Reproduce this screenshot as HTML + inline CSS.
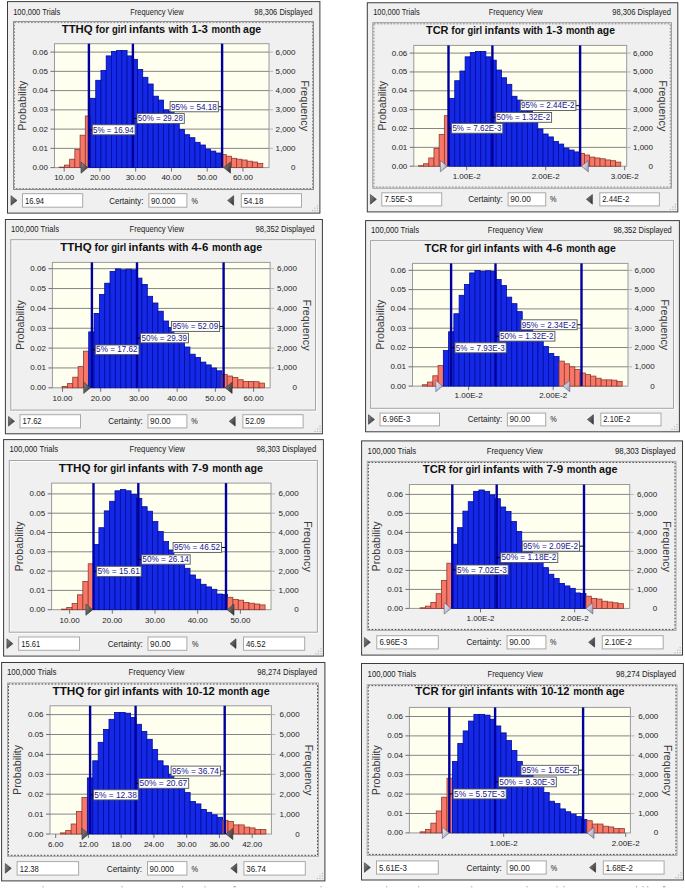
<!DOCTYPE html>
<html><head><meta charset="utf-8"><title>Figure</title>
<style>html,body{margin:0;padding:0;background:#fff;}body{width:685px;height:888px;overflow:hidden;font-family:"Liberation Sans",sans-serif;}svg{display:block;}</style></head>
<body>
<svg width="685" height="888" viewBox="0 0 685 888" font-family='"Liberation Sans", sans-serif'>
<defs><linearGradient id="gd" x1="0" y1="0" x2="1" y2="1"><stop offset="0" stop-color="#8c8c8c"/><stop offset="1" stop-color="#2c2c2c"/></linearGradient><linearGradient id="gl" x1="0" y1="0" x2="1" y2="1"><stop offset="0" stop-color="#f4f4fa"/><stop offset="1" stop-color="#9a9ab4"/></linearGradient></defs>
<rect width="685" height="888" fill="#fff"/>
<g><rect x="7.5" y="1.6" width="312.4" height="211.5" fill="#f0f0f0" stroke="#3c3c3c" stroke-width="1"/>
<rect x="13.5" y="21.6" width="300" height="167.9" fill="none" stroke="#8c8c8c" stroke-width="1"/>
<rect x="14.5" y="22.6" width="298" height="165.9" fill="none" stroke="#e4e4e4" stroke-width="1"/>
<rect x="14.5" y="22.6" width="298" height="165.9" fill="none" stroke="#8c8c8c" stroke-width="1" stroke-dasharray="1.6 1.7"/>
<text x="13.2" y="14.8" font-size="9.1" text-anchor="start" fill="#1a1a1a" textLength="47.1" lengthAdjust="spacingAndGlyphs">100,000 Trials</text>
<text x="130.3" y="14.8" font-size="9.1" text-anchor="start" fill="#1a1a1a" textLength="53.3" lengthAdjust="spacingAndGlyphs">Frequency View</text>
<text x="254.3" y="14.8" font-size="9.1" text-anchor="start" fill="#1a1a1a" textLength="58.1" lengthAdjust="spacingAndGlyphs">98,306 Displayed</text>
<text x="61.7" y="33" font-size="11.3" text-anchor="start" fill="#111" font-weight="bold" textLength="30.99" lengthAdjust="spacingAndGlyphs">TTHQ</text>
<text x="95.5" y="33" font-size="11.3" text-anchor="start" fill="#111" font-weight="bold" textLength="13.68" lengthAdjust="spacingAndGlyphs">for</text>
<text x="112" y="33" font-size="11.3" text-anchor="start" fill="#111" font-weight="bold" textLength="14.69" lengthAdjust="spacingAndGlyphs">girl</text>
<text x="129.11" y="33" font-size="11.3" text-anchor="start" fill="#111" font-weight="bold" textLength="36.12" lengthAdjust="spacingAndGlyphs">infants</text>
<text x="168.44" y="33" font-size="11.3" text-anchor="start" fill="#111" font-weight="bold" textLength="19.72" lengthAdjust="spacingAndGlyphs">with</text>
<text x="191.48" y="33" font-size="11.3" text-anchor="start" fill="#111" font-weight="bold" textLength="16.5" lengthAdjust="spacingAndGlyphs">1-3</text>
<text x="211.5" y="33" font-size="11.3" text-anchor="start" fill="#111" font-weight="bold" textLength="29.07" lengthAdjust="spacingAndGlyphs">month</text>
<text x="243.09" y="33" font-size="11.3" text-anchor="start" fill="#111" font-weight="bold" textLength="18.11" lengthAdjust="spacingAndGlyphs">age</text>
<rect x="54.5" y="43.7" width="214.5" height="123.9" fill="#fffff0" stroke="#9a9a9a" stroke-width="1"/>
<line x1="50.5" y1="167.6" x2="54.5" y2="167.6" stroke="#707070" stroke-width="1"/>
<text x="48" y="170.1" font-size="8" text-anchor="end" fill="#222">0.00</text>
<text x="295.49" y="170.1" font-size="8" text-anchor="end" fill="#222">0</text>
<line x1="54.5" y1="148.35" x2="269" y2="148.35" stroke="#858585" stroke-width="1"/>
<line x1="50.5" y1="148.35" x2="54.5" y2="148.35" stroke="#707070" stroke-width="1"/>
<line x1="269" y1="148.35" x2="273" y2="148.35" stroke="#b4b4b4" stroke-width="1"/>
<text x="48" y="150.85" font-size="8" text-anchor="end" fill="#222">0.01</text>
<text x="295.49" y="150.85" font-size="8" text-anchor="end" fill="#222">1,000</text>
<line x1="54.5" y1="129.1" x2="269" y2="129.1" stroke="#858585" stroke-width="1"/>
<line x1="50.5" y1="129.1" x2="54.5" y2="129.1" stroke="#707070" stroke-width="1"/>
<line x1="269" y1="129.1" x2="273" y2="129.1" stroke="#b4b4b4" stroke-width="1"/>
<text x="48" y="131.6" font-size="8" text-anchor="end" fill="#222">0.02</text>
<text x="295.49" y="131.6" font-size="8" text-anchor="end" fill="#222">2,000</text>
<line x1="54.5" y1="109.85" x2="269" y2="109.85" stroke="#858585" stroke-width="1"/>
<line x1="50.5" y1="109.85" x2="54.5" y2="109.85" stroke="#707070" stroke-width="1"/>
<line x1="269" y1="109.85" x2="273" y2="109.85" stroke="#b4b4b4" stroke-width="1"/>
<text x="48" y="112.35" font-size="8" text-anchor="end" fill="#222">0.03</text>
<text x="295.49" y="112.35" font-size="8" text-anchor="end" fill="#222">3,000</text>
<line x1="54.5" y1="90.6" x2="269" y2="90.6" stroke="#858585" stroke-width="1"/>
<line x1="50.5" y1="90.6" x2="54.5" y2="90.6" stroke="#707070" stroke-width="1"/>
<line x1="269" y1="90.6" x2="273" y2="90.6" stroke="#b4b4b4" stroke-width="1"/>
<text x="48" y="93.1" font-size="8" text-anchor="end" fill="#222">0.04</text>
<text x="295.49" y="93.1" font-size="8" text-anchor="end" fill="#222">4,000</text>
<line x1="54.5" y1="71.35" x2="269" y2="71.35" stroke="#858585" stroke-width="1"/>
<line x1="50.5" y1="71.35" x2="54.5" y2="71.35" stroke="#707070" stroke-width="1"/>
<line x1="269" y1="71.35" x2="273" y2="71.35" stroke="#b4b4b4" stroke-width="1"/>
<text x="48" y="73.85" font-size="8" text-anchor="end" fill="#222">0.05</text>
<text x="295.49" y="73.85" font-size="8" text-anchor="end" fill="#222">5,000</text>
<line x1="54.5" y1="52.1" x2="269" y2="52.1" stroke="#858585" stroke-width="1"/>
<line x1="50.5" y1="52.1" x2="54.5" y2="52.1" stroke="#707070" stroke-width="1"/>
<line x1="269" y1="52.1" x2="273" y2="52.1" stroke="#b4b4b4" stroke-width="1"/>
<text x="48" y="54.6" font-size="8" text-anchor="end" fill="#222">0.06</text>
<text x="295.49" y="54.6" font-size="8" text-anchor="end" fill="#222">6,000</text>
<text transform="translate(26.21,105.65) rotate(-90)" font-size="10.5" text-anchor="middle" fill="#3a3a3a" textLength="50" lengthAdjust="spacingAndGlyphs">Probability</text>
<text transform="translate(301.49,105.65) rotate(90)" font-size="10.5" text-anchor="middle" fill="#3a3a3a" textLength="51" lengthAdjust="spacingAndGlyphs">Frequency</text>
<line x1="64.2" y1="167.6" x2="64.2" y2="171.6" stroke="#707070" stroke-width="1"/>
<text x="64.2" y="180.3" font-size="8" text-anchor="middle" fill="#222">10.00</text>
<line x1="99.95" y1="167.6" x2="99.95" y2="171.6" stroke="#707070" stroke-width="1"/>
<text x="99.95" y="180.3" font-size="8" text-anchor="middle" fill="#222">20.00</text>
<line x1="135.7" y1="167.6" x2="135.7" y2="171.6" stroke="#707070" stroke-width="1"/>
<text x="135.7" y="180.3" font-size="8" text-anchor="middle" fill="#222">30.00</text>
<line x1="171.45" y1="167.6" x2="171.45" y2="171.6" stroke="#707070" stroke-width="1"/>
<text x="171.45" y="180.3" font-size="8" text-anchor="middle" fill="#222">40.00</text>
<line x1="207.2" y1="167.6" x2="207.2" y2="171.6" stroke="#707070" stroke-width="1"/>
<text x="207.2" y="180.3" font-size="8" text-anchor="middle" fill="#222">50.00</text>
<line x1="242.95" y1="167.6" x2="242.95" y2="171.6" stroke="#707070" stroke-width="1"/>
<text x="242.95" y="180.3" font-size="8" text-anchor="middle" fill="#222">60.00</text>
<rect x="59.2" y="167.1" width="5.22" height="0.5" fill="#f87868" stroke="#8c3a30" stroke-width="0.8"/>
<rect x="64.42" y="165.1" width="5.22" height="2.5" fill="#f87868" stroke="#8c3a30" stroke-width="0.8"/>
<rect x="69.64" y="159.2" width="5.22" height="8.4" fill="#f87868" stroke="#8c3a30" stroke-width="0.8"/>
<rect x="74.86" y="149.5" width="5.22" height="18.1" fill="#f87868" stroke="#8c3a30" stroke-width="0.8"/>
<rect x="80.08" y="135.2" width="5.22" height="32.4" fill="#f87868" stroke="#8c3a30" stroke-width="0.8"/>
<rect x="85.3" y="116" width="5.22" height="51.6" fill="#f87868" stroke="#8c3a30" stroke-width="0.8"/>
<rect x="90.52" y="98.3" width="5.22" height="69.3" fill="#1428e6" stroke="#000c9c" stroke-width="0.8"/>
<rect x="95.74" y="80.3" width="5.22" height="87.3" fill="#1428e6" stroke="#000c9c" stroke-width="0.8"/>
<rect x="100.96" y="70.4" width="5.22" height="97.2" fill="#1428e6" stroke="#000c9c" stroke-width="0.8"/>
<rect x="106.18" y="55.9" width="5.22" height="111.7" fill="#1428e6" stroke="#000c9c" stroke-width="0.8"/>
<rect x="111.4" y="51.4" width="5.22" height="116.2" fill="#1428e6" stroke="#000c9c" stroke-width="0.8"/>
<rect x="116.62" y="50.4" width="5.22" height="117.2" fill="#1428e6" stroke="#000c9c" stroke-width="0.8"/>
<rect x="121.84" y="50.4" width="5.22" height="117.2" fill="#1428e6" stroke="#000c9c" stroke-width="0.8"/>
<rect x="127.06" y="55.9" width="5.22" height="111.7" fill="#1428e6" stroke="#000c9c" stroke-width="0.8"/>
<rect x="132.28" y="59.3" width="5.22" height="108.3" fill="#1428e6" stroke="#000c9c" stroke-width="0.8"/>
<rect x="137.5" y="69.4" width="5.22" height="98.2" fill="#1428e6" stroke="#000c9c" stroke-width="0.8"/>
<rect x="142.72" y="77.3" width="5.22" height="90.3" fill="#1428e6" stroke="#000c9c" stroke-width="0.8"/>
<rect x="147.94" y="84" width="5.22" height="83.6" fill="#1428e6" stroke="#000c9c" stroke-width="0.8"/>
<rect x="153.16" y="96.2" width="5.22" height="71.4" fill="#1428e6" stroke="#000c9c" stroke-width="0.8"/>
<rect x="158.38" y="100.1" width="5.22" height="67.5" fill="#1428e6" stroke="#000c9c" stroke-width="0.8"/>
<rect x="163.6" y="109.9" width="5.22" height="57.7" fill="#1428e6" stroke="#000c9c" stroke-width="0.8"/>
<rect x="168.82" y="111.4" width="5.22" height="56.2" fill="#1428e6" stroke="#000c9c" stroke-width="0.8"/>
<rect x="174.04" y="120" width="5.22" height="47.6" fill="#1428e6" stroke="#000c9c" stroke-width="0.8"/>
<rect x="179.26" y="129.6" width="5.22" height="38" fill="#1428e6" stroke="#000c9c" stroke-width="0.8"/>
<rect x="184.48" y="134.7" width="5.22" height="32.9" fill="#1428e6" stroke="#000c9c" stroke-width="0.8"/>
<rect x="189.7" y="137.7" width="5.22" height="29.9" fill="#1428e6" stroke="#000c9c" stroke-width="0.8"/>
<rect x="194.92" y="142.3" width="5.22" height="25.3" fill="#1428e6" stroke="#000c9c" stroke-width="0.8"/>
<rect x="200.14" y="145" width="5.22" height="22.6" fill="#1428e6" stroke="#000c9c" stroke-width="0.8"/>
<rect x="205.36" y="149.1" width="5.22" height="18.5" fill="#1428e6" stroke="#000c9c" stroke-width="0.8"/>
<rect x="210.58" y="151.1" width="5.22" height="16.5" fill="#1428e6" stroke="#000c9c" stroke-width="0.8"/>
<rect x="215.8" y="153" width="5.22" height="14.6" fill="#1428e6" stroke="#000c9c" stroke-width="0.8"/>
<rect x="221.02" y="154.5" width="5.22" height="13.1" fill="#f87868" stroke="#8c3a30" stroke-width="0.8"/>
<rect x="226.24" y="156.2" width="5.22" height="11.4" fill="#f87868" stroke="#8c3a30" stroke-width="0.8"/>
<rect x="231.46" y="158.3" width="5.22" height="9.3" fill="#f87868" stroke="#8c3a30" stroke-width="0.8"/>
<rect x="236.68" y="159.2" width="5.22" height="8.4" fill="#f87868" stroke="#8c3a30" stroke-width="0.8"/>
<rect x="241.9" y="160" width="5.22" height="7.6" fill="#f87868" stroke="#8c3a30" stroke-width="0.8"/>
<rect x="247.12" y="161.2" width="5.22" height="6.4" fill="#f87868" stroke="#8c3a30" stroke-width="0.8"/>
<rect x="252.34" y="162" width="5.22" height="5.6" fill="#f87868" stroke="#8c3a30" stroke-width="0.8"/>
<rect x="257.56" y="163.4" width="5.22" height="4.2" fill="#f87868" stroke="#8c3a30" stroke-width="0.8"/>
<line x1="88.9" y1="43.7" x2="88.9" y2="167.6" stroke="#00009c" stroke-width="2.4"/>
<line x1="132.9" y1="43.7" x2="132.9" y2="167.6" stroke="#00009c" stroke-width="2.4"/>
<line x1="222.1" y1="43.7" x2="222.1" y2="167.6" stroke="#00009c" stroke-width="2.4"/>
<line x1="88.9" y1="129.8" x2="92.3" y2="129.8" stroke="#000" stroke-width="1"/>
<rect x="92.3" y="124.8" width="42.8" height="10" fill="#fff" stroke="#555" stroke-width="0.9"/>
<text x="93.1" y="132.7" font-size="8.4" text-anchor="start" fill="#20208c" textLength="40.6" lengthAdjust="spacingAndGlyphs">5% = 16.94</text>
<line x1="132.8" y1="118.5" x2="137" y2="118.5" stroke="#000" stroke-width="1"/>
<rect x="137" y="113.6" width="47.3" height="9.8" fill="#fff" stroke="#555" stroke-width="0.9"/>
<text x="137.8" y="121.3" font-size="8.4" text-anchor="start" fill="#20208c" textLength="45.1" lengthAdjust="spacingAndGlyphs">50% = 29.28</text>
<line x1="218.3" y1="106.7" x2="222.5" y2="106.7" stroke="#000" stroke-width="1"/>
<rect x="170.1" y="101.6" width="48.2" height="10.2" fill="#fff" stroke="#555" stroke-width="0.9"/>
<text x="170.9" y="109.7" font-size="8.4" text-anchor="start" fill="#20208c" textLength="46" lengthAdjust="spacingAndGlyphs">95% = 54.18</text>
<polygon points="81,162 81,173.2 87.8,167.6" fill="url(#gd)" stroke="#333" stroke-width="0.6"/>
<polygon points="230.5,162 230.5,173.2 223.7,167.6" fill="url(#gd)" stroke="#333" stroke-width="0.6"/>
<rect x="22.5" y="193.7" width="60.2" height="13.5" fill="#fff" stroke="#a9a9a9" stroke-width="1"/>
<rect x="241.3" y="193.7" width="60.2" height="13.5" fill="#fff" stroke="#a9a9a9" stroke-width="1"/>
<rect x="148.9" y="193.7" width="38" height="13.5" fill="#fff" stroke="#a9a9a9" stroke-width="1"/>
<text x="25.1" y="203.6" font-size="9.3" text-anchor="start" fill="#1a1a1a" textLength="19" lengthAdjust="spacingAndGlyphs">16.94</text>
<text x="243.7" y="203.6" font-size="9.3" text-anchor="start" fill="#1a1a1a" textLength="19.6" lengthAdjust="spacingAndGlyphs">54.18</text>
<text x="151" y="203.6" font-size="9.3" text-anchor="start" fill="#1a1a1a" textLength="24.3" lengthAdjust="spacingAndGlyphs">90.000</text>
<text x="109.2" y="203.6" font-size="9.3" text-anchor="start" fill="#1a1a1a" textLength="34.2" lengthAdjust="spacingAndGlyphs">Certainty:</text>
<text x="191.5" y="203.6" font-size="9.3" text-anchor="start" fill="#1a1a1a" textLength="6.5" lengthAdjust="spacingAndGlyphs">%</text>
<polygon points="11,195.65 11,205.25 17,200.45" fill="url(#gd)" stroke="#333" stroke-width="0.6"/>
<polygon points="233.6,195.65 233.6,205.25 227.6,200.45" fill="url(#gd)" stroke="#333" stroke-width="0.6"/>
<rect x="316.9" y="210.1" width="1.2" height="1.2" fill="#b8b8b8"/>
<rect x="314.4" y="210.1" width="1.2" height="1.2" fill="#b8b8b8"/>
<rect x="316.9" y="207.6" width="1.2" height="1.2" fill="#b8b8b8"/>
<rect x="311.9" y="210.1" width="1.2" height="1.2" fill="#b8b8b8"/>
<rect x="316.9" y="205.1" width="1.2" height="1.2" fill="#b8b8b8"/>
<rect x="314.4" y="207.6" width="1.2" height="1.2" fill="#b8b8b8"/></g>
<g><rect x="367.3" y="2.75" width="310.5" height="209.15" fill="#f0f0f0" stroke="#3c3c3c" stroke-width="1"/>
<rect x="372.9" y="22.8" width="298.4" height="165.3" fill="none" stroke="#8c8c8c" stroke-width="1"/>
<rect x="373.9" y="23.8" width="296.4" height="163.3" fill="none" stroke="#e4e4e4" stroke-width="1"/>
<rect x="373.9" y="23.8" width="296.4" height="163.3" fill="none" stroke="#8c8c8c" stroke-width="1" stroke-dasharray="1.6 1.7"/>
<text x="373.2" y="15.1" font-size="9.1" text-anchor="start" fill="#1a1a1a" textLength="46.4" lengthAdjust="spacingAndGlyphs">100,000 Trials</text>
<text x="488.7" y="15.1" font-size="9.1" text-anchor="start" fill="#1a1a1a" textLength="53.9" lengthAdjust="spacingAndGlyphs">Frequency View</text>
<text x="612.2" y="15.1" font-size="9.1" text-anchor="start" fill="#1a1a1a" textLength="58.7" lengthAdjust="spacingAndGlyphs">98,306 Displayed</text>
<text x="426" y="34.2" font-size="11.3" text-anchor="start" fill="#111" font-weight="bold" textLength="22.47" lengthAdjust="spacingAndGlyphs">TCR</text>
<text x="451.25" y="34.2" font-size="11.3" text-anchor="start" fill="#111" font-weight="bold" textLength="13.52" lengthAdjust="spacingAndGlyphs">for</text>
<text x="467.56" y="34.2" font-size="11.3" text-anchor="start" fill="#111" font-weight="bold" textLength="14.52" lengthAdjust="spacingAndGlyphs">girl</text>
<text x="484.46" y="34.2" font-size="11.3" text-anchor="start" fill="#111" font-weight="bold" textLength="35.69" lengthAdjust="spacingAndGlyphs">infants</text>
<text x="523.33" y="34.2" font-size="11.3" text-anchor="start" fill="#111" font-weight="bold" textLength="19.49" lengthAdjust="spacingAndGlyphs">with</text>
<text x="546.1" y="34.2" font-size="11.3" text-anchor="start" fill="#111" font-weight="bold" textLength="16.31" lengthAdjust="spacingAndGlyphs">1-3</text>
<text x="565.89" y="34.2" font-size="11.3" text-anchor="start" fill="#111" font-weight="bold" textLength="28.73" lengthAdjust="spacingAndGlyphs">month</text>
<text x="597.1" y="34.2" font-size="11.3" text-anchor="start" fill="#111" font-weight="bold" textLength="17.9" lengthAdjust="spacingAndGlyphs">age</text>
<rect x="413.8" y="45.4" width="212.9" height="120.8" fill="#fffff0" stroke="#9a9a9a" stroke-width="1"/>
<line x1="409.8" y1="166.2" x2="413.8" y2="166.2" stroke="#707070" stroke-width="1"/>
<text x="407.3" y="168.7" font-size="8" text-anchor="end" fill="#222">0.00</text>
<text x="653.03" y="168.7" font-size="8" text-anchor="end" fill="#222">0</text>
<line x1="413.8" y1="147.35" x2="626.7" y2="147.35" stroke="#858585" stroke-width="1"/>
<line x1="409.8" y1="147.35" x2="413.8" y2="147.35" stroke="#707070" stroke-width="1"/>
<line x1="626.7" y1="147.35" x2="630.7" y2="147.35" stroke="#b4b4b4" stroke-width="1"/>
<text x="407.3" y="149.85" font-size="8" text-anchor="end" fill="#222">0.01</text>
<text x="653.03" y="149.85" font-size="8" text-anchor="end" fill="#222">1,000</text>
<line x1="413.8" y1="128.5" x2="626.7" y2="128.5" stroke="#858585" stroke-width="1"/>
<line x1="409.8" y1="128.5" x2="413.8" y2="128.5" stroke="#707070" stroke-width="1"/>
<line x1="626.7" y1="128.5" x2="630.7" y2="128.5" stroke="#b4b4b4" stroke-width="1"/>
<text x="407.3" y="131" font-size="8" text-anchor="end" fill="#222">0.02</text>
<text x="653.03" y="131" font-size="8" text-anchor="end" fill="#222">2,000</text>
<line x1="413.8" y1="109.65" x2="626.7" y2="109.65" stroke="#858585" stroke-width="1"/>
<line x1="409.8" y1="109.65" x2="413.8" y2="109.65" stroke="#707070" stroke-width="1"/>
<line x1="626.7" y1="109.65" x2="630.7" y2="109.65" stroke="#b4b4b4" stroke-width="1"/>
<text x="407.3" y="112.15" font-size="8" text-anchor="end" fill="#222">0.03</text>
<text x="653.03" y="112.15" font-size="8" text-anchor="end" fill="#222">3,000</text>
<line x1="413.8" y1="90.8" x2="626.7" y2="90.8" stroke="#858585" stroke-width="1"/>
<line x1="409.8" y1="90.8" x2="413.8" y2="90.8" stroke="#707070" stroke-width="1"/>
<line x1="626.7" y1="90.8" x2="630.7" y2="90.8" stroke="#b4b4b4" stroke-width="1"/>
<text x="407.3" y="93.3" font-size="8" text-anchor="end" fill="#222">0.04</text>
<text x="653.03" y="93.3" font-size="8" text-anchor="end" fill="#222">4,000</text>
<line x1="413.8" y1="71.95" x2="626.7" y2="71.95" stroke="#858585" stroke-width="1"/>
<line x1="409.8" y1="71.95" x2="413.8" y2="71.95" stroke="#707070" stroke-width="1"/>
<line x1="626.7" y1="71.95" x2="630.7" y2="71.95" stroke="#b4b4b4" stroke-width="1"/>
<text x="407.3" y="74.45" font-size="8" text-anchor="end" fill="#222">0.05</text>
<text x="653.03" y="74.45" font-size="8" text-anchor="end" fill="#222">5,000</text>
<line x1="413.8" y1="53.1" x2="626.7" y2="53.1" stroke="#858585" stroke-width="1"/>
<line x1="409.8" y1="53.1" x2="413.8" y2="53.1" stroke="#707070" stroke-width="1"/>
<line x1="626.7" y1="53.1" x2="630.7" y2="53.1" stroke="#b4b4b4" stroke-width="1"/>
<text x="407.3" y="55.6" font-size="8" text-anchor="end" fill="#222">0.06</text>
<text x="653.03" y="55.6" font-size="8" text-anchor="end" fill="#222">6,000</text>
<text transform="translate(385.68,105.8) rotate(-90)" font-size="10.5" text-anchor="middle" fill="#3a3a3a" textLength="50" lengthAdjust="spacingAndGlyphs">Probability</text>
<text transform="translate(658.99,105.8) rotate(90)" font-size="10.5" text-anchor="middle" fill="#3a3a3a" textLength="51" lengthAdjust="spacingAndGlyphs">Frequency</text>
<line x1="466.7" y1="166.2" x2="466.7" y2="170.2" stroke="#707070" stroke-width="1"/>
<text x="466.7" y="178.8" font-size="8" text-anchor="middle" fill="#222">1.00E-2</text>
<line x1="545.7" y1="166.2" x2="545.7" y2="170.2" stroke="#707070" stroke-width="1"/>
<text x="545.7" y="178.8" font-size="8" text-anchor="middle" fill="#222">2.00E-2</text>
<line x1="624.7" y1="166.2" x2="624.7" y2="170.2" stroke="#707070" stroke-width="1"/>
<text x="624.7" y="178.8" font-size="8" text-anchor="middle" fill="#222">3.00E-2</text>
<rect x="418.4" y="165.71" width="5.19" height="0.49" fill="#f87868" stroke="#8c3a30" stroke-width="0.8"/>
<rect x="423.59" y="163.75" width="5.19" height="2.45" fill="#f87868" stroke="#8c3a30" stroke-width="0.8"/>
<rect x="428.78" y="157.97" width="5.19" height="8.23" fill="#f87868" stroke="#8c3a30" stroke-width="0.8"/>
<rect x="433.97" y="148.48" width="5.19" height="17.72" fill="#f87868" stroke="#8c3a30" stroke-width="0.8"/>
<rect x="439.16" y="134.47" width="5.19" height="31.73" fill="#f87868" stroke="#8c3a30" stroke-width="0.8"/>
<rect x="444.35" y="115.67" width="5.19" height="50.53" fill="#f87868" stroke="#8c3a30" stroke-width="0.8"/>
<rect x="449.54" y="98.34" width="5.19" height="67.86" fill="#1428e6" stroke="#000c9c" stroke-width="0.8"/>
<rect x="454.73" y="80.71" width="5.19" height="85.49" fill="#1428e6" stroke="#000c9c" stroke-width="0.8"/>
<rect x="459.92" y="71.02" width="5.19" height="95.18" fill="#1428e6" stroke="#000c9c" stroke-width="0.8"/>
<rect x="465.11" y="56.82" width="5.19" height="109.38" fill="#1428e6" stroke="#000c9c" stroke-width="0.8"/>
<rect x="470.3" y="52.41" width="5.19" height="113.79" fill="#1428e6" stroke="#000c9c" stroke-width="0.8"/>
<rect x="475.49" y="51.44" width="5.19" height="114.76" fill="#1428e6" stroke="#000c9c" stroke-width="0.8"/>
<rect x="480.68" y="51.44" width="5.19" height="114.76" fill="#1428e6" stroke="#000c9c" stroke-width="0.8"/>
<rect x="485.87" y="56.82" width="5.19" height="109.38" fill="#1428e6" stroke="#000c9c" stroke-width="0.8"/>
<rect x="491.06" y="60.15" width="5.19" height="106.05" fill="#1428e6" stroke="#000c9c" stroke-width="0.8"/>
<rect x="496.25" y="70.04" width="5.19" height="96.16" fill="#1428e6" stroke="#000c9c" stroke-width="0.8"/>
<rect x="501.44" y="77.78" width="5.19" height="88.42" fill="#1428e6" stroke="#000c9c" stroke-width="0.8"/>
<rect x="506.63" y="84.34" width="5.19" height="81.86" fill="#1428e6" stroke="#000c9c" stroke-width="0.8"/>
<rect x="511.82" y="96.28" width="5.19" height="69.92" fill="#1428e6" stroke="#000c9c" stroke-width="0.8"/>
<rect x="517.01" y="100.1" width="5.19" height="66.1" fill="#1428e6" stroke="#000c9c" stroke-width="0.8"/>
<rect x="522.2" y="109.7" width="5.19" height="56.5" fill="#1428e6" stroke="#000c9c" stroke-width="0.8"/>
<rect x="527.39" y="111.17" width="5.19" height="55.03" fill="#1428e6" stroke="#000c9c" stroke-width="0.8"/>
<rect x="532.58" y="119.59" width="5.19" height="46.61" fill="#1428e6" stroke="#000c9c" stroke-width="0.8"/>
<rect x="537.77" y="128.99" width="5.19" height="37.21" fill="#1428e6" stroke="#000c9c" stroke-width="0.8"/>
<rect x="542.96" y="133.98" width="5.19" height="32.22" fill="#1428e6" stroke="#000c9c" stroke-width="0.8"/>
<rect x="548.15" y="136.92" width="5.19" height="29.28" fill="#1428e6" stroke="#000c9c" stroke-width="0.8"/>
<rect x="553.34" y="141.43" width="5.19" height="24.77" fill="#1428e6" stroke="#000c9c" stroke-width="0.8"/>
<rect x="558.53" y="144.07" width="5.19" height="22.13" fill="#1428e6" stroke="#000c9c" stroke-width="0.8"/>
<rect x="563.72" y="148.08" width="5.19" height="18.12" fill="#1428e6" stroke="#000c9c" stroke-width="0.8"/>
<rect x="568.91" y="150.04" width="5.19" height="16.16" fill="#1428e6" stroke="#000c9c" stroke-width="0.8"/>
<rect x="574.1" y="151.9" width="5.19" height="14.3" fill="#1428e6" stroke="#000c9c" stroke-width="0.8"/>
<rect x="579.29" y="153.37" width="5.19" height="12.83" fill="#f87868" stroke="#8c3a30" stroke-width="0.8"/>
<rect x="584.48" y="155.04" width="5.19" height="11.16" fill="#f87868" stroke="#8c3a30" stroke-width="0.8"/>
<rect x="589.67" y="157.09" width="5.19" height="9.11" fill="#f87868" stroke="#8c3a30" stroke-width="0.8"/>
<rect x="594.86" y="157.97" width="5.19" height="8.23" fill="#f87868" stroke="#8c3a30" stroke-width="0.8"/>
<rect x="600.05" y="158.76" width="5.19" height="7.44" fill="#f87868" stroke="#8c3a30" stroke-width="0.8"/>
<rect x="605.24" y="159.93" width="5.19" height="6.27" fill="#f87868" stroke="#8c3a30" stroke-width="0.8"/>
<rect x="610.43" y="160.72" width="5.19" height="5.48" fill="#f87868" stroke="#8c3a30" stroke-width="0.8"/>
<rect x="615.62" y="162.09" width="5.19" height="4.11" fill="#f87868" stroke="#8c3a30" stroke-width="0.8"/>
<line x1="448.5" y1="45.4" x2="448.5" y2="166.2" stroke="#00009c" stroke-width="2.4"/>
<line x1="492.4" y1="45.4" x2="492.4" y2="166.2" stroke="#00009c" stroke-width="2.4"/>
<line x1="580.1" y1="45.4" x2="580.1" y2="166.2" stroke="#00009c" stroke-width="2.4"/>
<line x1="448.5" y1="128.3" x2="451.6" y2="128.3" stroke="#000" stroke-width="1"/>
<rect x="451.6" y="123.4" width="51.2" height="9.8" fill="#fff" stroke="#555" stroke-width="0.9"/>
<text x="452.4" y="131.1" font-size="8.4" text-anchor="start" fill="#20208c" textLength="49" lengthAdjust="spacingAndGlyphs">5% = 7.62E-3</text>
<line x1="492.4" y1="117.4" x2="495.8" y2="117.4" stroke="#000" stroke-width="1"/>
<rect x="495.8" y="112.5" width="55.8" height="9.8" fill="#fff" stroke="#555" stroke-width="0.9"/>
<text x="496.6" y="120.2" font-size="8.4" text-anchor="start" fill="#20208c" textLength="53.6" lengthAdjust="spacingAndGlyphs">50% = 1.32E-2</text>
<line x1="575.9" y1="105.65" x2="580.1" y2="105.65" stroke="#000" stroke-width="1"/>
<rect x="520.3" y="100.8" width="55.6" height="9.7" fill="#fff" stroke="#555" stroke-width="0.9"/>
<text x="521.1" y="108.4" font-size="8.4" text-anchor="start" fill="#20208c" textLength="53.4" lengthAdjust="spacingAndGlyphs">95% = 2.44E-2</text>
<polygon points="440.4,160.6 440.4,171.8 447.2,166.2" fill="url(#gl)" stroke="#55557a" stroke-width="0.6"/>
<polygon points="588.3,160.6 588.3,171.8 581.5,166.2" fill="url(#gl)" stroke="#55557a" stroke-width="0.6"/>
<rect x="381.8" y="192.8" width="59.9" height="13.1" fill="#fff" stroke="#a9a9a9" stroke-width="1"/>
<rect x="599.8" y="192.8" width="59.6" height="13.1" fill="#fff" stroke="#a9a9a9" stroke-width="1"/>
<rect x="508.1" y="192.8" width="37.6" height="13.1" fill="#fff" stroke="#a9a9a9" stroke-width="1"/>
<text x="384.4" y="202.3" font-size="9.3" text-anchor="start" fill="#1a1a1a" textLength="27.8" lengthAdjust="spacingAndGlyphs">7.55E-3</text>
<text x="602.2" y="202.3" font-size="9.3" text-anchor="start" fill="#1a1a1a" textLength="27.2" lengthAdjust="spacingAndGlyphs">2.44E-2</text>
<text x="510.2" y="202.3" font-size="9.3" text-anchor="start" fill="#1a1a1a" textLength="20.6" lengthAdjust="spacingAndGlyphs">90.00</text>
<text x="468.3" y="202.3" font-size="9.3" text-anchor="start" fill="#1a1a1a" textLength="34.5" lengthAdjust="spacingAndGlyphs">Certainty:</text>
<text x="550" y="202.3" font-size="9.3" text-anchor="start" fill="#1a1a1a" textLength="6.5" lengthAdjust="spacingAndGlyphs">%</text>
<polygon points="370.4,194.55 370.4,204.15 376.4,199.35" fill="url(#gd)" stroke="#333" stroke-width="0.6"/>
<polygon points="592.4,194.55 592.4,204.15 586.4,199.35" fill="url(#gd)" stroke="#333" stroke-width="0.6"/>
<rect x="674.8" y="208.9" width="1.2" height="1.2" fill="#b8b8b8"/>
<rect x="672.3" y="208.9" width="1.2" height="1.2" fill="#b8b8b8"/>
<rect x="674.8" y="206.4" width="1.2" height="1.2" fill="#b8b8b8"/>
<rect x="669.8" y="208.9" width="1.2" height="1.2" fill="#b8b8b8"/>
<rect x="674.8" y="203.9" width="1.2" height="1.2" fill="#b8b8b8"/>
<rect x="672.3" y="206.4" width="1.2" height="1.2" fill="#b8b8b8"/></g>
<g><rect x="5.4" y="219.5" width="317" height="214.3" fill="#f0f0f0" stroke="#3c3c3c" stroke-width="1"/>
<rect x="11.8" y="240.7" width="304.7" height="170.4" fill="none" stroke="#fcfcfc" stroke-width="1"/>
<rect x="10.8" y="239.7" width="304.7" height="170.4" fill="none" stroke="#a4a4a4" stroke-width="1"/>
<text x="11" y="232.1" font-size="9.1" text-anchor="start" fill="#1a1a1a" textLength="48" lengthAdjust="spacingAndGlyphs">100,000 Trials</text>
<text x="129.5" y="232.1" font-size="9.1" text-anchor="start" fill="#1a1a1a" textLength="54.5" lengthAdjust="spacingAndGlyphs">Frequency View</text>
<text x="255.6" y="232.1" font-size="9.1" text-anchor="start" fill="#1a1a1a" textLength="59" lengthAdjust="spacingAndGlyphs">98,352 Displayed</text>
<text x="60.3" y="251.3" font-size="11.3" text-anchor="start" fill="#111" font-weight="bold" textLength="31.36" lengthAdjust="spacingAndGlyphs">TTHQ</text>
<text x="94.51" y="251.3" font-size="11.3" text-anchor="start" fill="#111" font-weight="bold" textLength="13.85" lengthAdjust="spacingAndGlyphs">for</text>
<text x="111.21" y="251.3" font-size="11.3" text-anchor="start" fill="#111" font-weight="bold" textLength="14.87" lengthAdjust="spacingAndGlyphs">girl</text>
<text x="128.52" y="251.3" font-size="11.3" text-anchor="start" fill="#111" font-weight="bold" textLength="36.55" lengthAdjust="spacingAndGlyphs">infants</text>
<text x="168.33" y="251.3" font-size="11.3" text-anchor="start" fill="#111" font-weight="bold" textLength="19.96" lengthAdjust="spacingAndGlyphs">with</text>
<text x="191.64" y="251.3" font-size="11.3" text-anchor="start" fill="#111" font-weight="bold" textLength="16.7" lengthAdjust="spacingAndGlyphs">4-6</text>
<text x="211.9" y="251.3" font-size="11.3" text-anchor="start" fill="#111" font-weight="bold" textLength="29.42" lengthAdjust="spacingAndGlyphs">month</text>
<text x="243.87" y="251.3" font-size="11.3" text-anchor="start" fill="#111" font-weight="bold" textLength="18.33" lengthAdjust="spacingAndGlyphs">age</text>
<rect x="52.4" y="262.4" width="217.7" height="125.4" fill="#fffff0" stroke="#9a9a9a" stroke-width="1"/>
<line x1="48.4" y1="387.8" x2="52.4" y2="387.8" stroke="#707070" stroke-width="1"/>
<text x="45.9" y="390.3" font-size="8" text-anchor="end" fill="#222">0.00</text>
<text x="296.98" y="390.3" font-size="8" text-anchor="end" fill="#222">0</text>
<line x1="52.4" y1="367.95" x2="270.1" y2="367.95" stroke="#858585" stroke-width="1"/>
<line x1="48.4" y1="367.95" x2="52.4" y2="367.95" stroke="#707070" stroke-width="1"/>
<line x1="270.1" y1="367.95" x2="274.1" y2="367.95" stroke="#b4b4b4" stroke-width="1"/>
<text x="45.9" y="370.45" font-size="8" text-anchor="end" fill="#222">0.01</text>
<text x="296.98" y="370.45" font-size="8" text-anchor="end" fill="#222">1,000</text>
<line x1="52.4" y1="348.1" x2="270.1" y2="348.1" stroke="#858585" stroke-width="1"/>
<line x1="48.4" y1="348.1" x2="52.4" y2="348.1" stroke="#707070" stroke-width="1"/>
<line x1="270.1" y1="348.1" x2="274.1" y2="348.1" stroke="#b4b4b4" stroke-width="1"/>
<text x="45.9" y="350.6" font-size="8" text-anchor="end" fill="#222">0.02</text>
<text x="296.98" y="350.6" font-size="8" text-anchor="end" fill="#222">2,000</text>
<line x1="52.4" y1="328.25" x2="270.1" y2="328.25" stroke="#858585" stroke-width="1"/>
<line x1="48.4" y1="328.25" x2="52.4" y2="328.25" stroke="#707070" stroke-width="1"/>
<line x1="270.1" y1="328.25" x2="274.1" y2="328.25" stroke="#b4b4b4" stroke-width="1"/>
<text x="45.9" y="330.75" font-size="8" text-anchor="end" fill="#222">0.03</text>
<text x="296.98" y="330.75" font-size="8" text-anchor="end" fill="#222">3,000</text>
<line x1="52.4" y1="308.4" x2="270.1" y2="308.4" stroke="#858585" stroke-width="1"/>
<line x1="48.4" y1="308.4" x2="52.4" y2="308.4" stroke="#707070" stroke-width="1"/>
<line x1="270.1" y1="308.4" x2="274.1" y2="308.4" stroke="#b4b4b4" stroke-width="1"/>
<text x="45.9" y="310.9" font-size="8" text-anchor="end" fill="#222">0.04</text>
<text x="296.98" y="310.9" font-size="8" text-anchor="end" fill="#222">4,000</text>
<line x1="52.4" y1="288.55" x2="270.1" y2="288.55" stroke="#858585" stroke-width="1"/>
<line x1="48.4" y1="288.55" x2="52.4" y2="288.55" stroke="#707070" stroke-width="1"/>
<line x1="270.1" y1="288.55" x2="274.1" y2="288.55" stroke="#b4b4b4" stroke-width="1"/>
<text x="45.9" y="291.05" font-size="8" text-anchor="end" fill="#222">0.05</text>
<text x="296.98" y="291.05" font-size="8" text-anchor="end" fill="#222">5,000</text>
<line x1="52.4" y1="268.7" x2="270.1" y2="268.7" stroke="#858585" stroke-width="1"/>
<line x1="48.4" y1="268.7" x2="52.4" y2="268.7" stroke="#707070" stroke-width="1"/>
<line x1="270.1" y1="268.7" x2="274.1" y2="268.7" stroke="#b4b4b4" stroke-width="1"/>
<text x="45.9" y="271.2" font-size="8" text-anchor="end" fill="#222">0.06</text>
<text x="296.98" y="271.2" font-size="8" text-anchor="end" fill="#222">6,000</text>
<text transform="translate(23.69,325.1) rotate(-90)" font-size="10.5" text-anchor="middle" fill="#3a3a3a" textLength="50" lengthAdjust="spacingAndGlyphs">Probability</text>
<text transform="translate(303.07,325.1) rotate(90)" font-size="10.5" text-anchor="middle" fill="#3a3a3a" textLength="51" lengthAdjust="spacingAndGlyphs">Frequency</text>
<line x1="62.5" y1="387.8" x2="62.5" y2="391.8" stroke="#707070" stroke-width="1"/>
<text x="62.5" y="400.6" font-size="8" text-anchor="middle" fill="#222">10.00</text>
<line x1="100.72" y1="387.8" x2="100.72" y2="391.8" stroke="#707070" stroke-width="1"/>
<text x="100.72" y="400.6" font-size="8" text-anchor="middle" fill="#222">20.00</text>
<line x1="138.94" y1="387.8" x2="138.94" y2="391.8" stroke="#707070" stroke-width="1"/>
<text x="138.94" y="400.6" font-size="8" text-anchor="middle" fill="#222">30.00</text>
<line x1="177.16" y1="387.8" x2="177.16" y2="391.8" stroke="#707070" stroke-width="1"/>
<text x="177.16" y="400.6" font-size="8" text-anchor="middle" fill="#222">40.00</text>
<line x1="215.38" y1="387.8" x2="215.38" y2="391.8" stroke="#707070" stroke-width="1"/>
<text x="215.38" y="400.6" font-size="8" text-anchor="middle" fill="#222">50.00</text>
<line x1="253.6" y1="387.8" x2="253.6" y2="391.8" stroke="#707070" stroke-width="1"/>
<text x="253.6" y="400.6" font-size="8" text-anchor="middle" fill="#222">60.00</text>
<rect x="62.1" y="386.4" width="5.33" height="1.4" fill="#f87868" stroke="#8c3a30" stroke-width="0.8"/>
<rect x="67.42" y="383.6" width="5.33" height="4.2" fill="#f87868" stroke="#8c3a30" stroke-width="0.8"/>
<rect x="72.75" y="377.2" width="5.33" height="10.6" fill="#f87868" stroke="#8c3a30" stroke-width="0.8"/>
<rect x="78.08" y="366.6" width="5.33" height="21.2" fill="#f87868" stroke="#8c3a30" stroke-width="0.8"/>
<rect x="83.4" y="351.2" width="5.33" height="36.6" fill="#f87868" stroke="#8c3a30" stroke-width="0.8"/>
<rect x="88.72" y="331.9" width="5.33" height="55.9" fill="#1428e6" stroke="#000c9c" stroke-width="0.8"/>
<rect x="94.05" y="313.4" width="5.33" height="74.4" fill="#1428e6" stroke="#000c9c" stroke-width="0.8"/>
<rect x="99.38" y="294.4" width="5.33" height="93.4" fill="#1428e6" stroke="#000c9c" stroke-width="0.8"/>
<rect x="104.7" y="283.2" width="5.33" height="104.6" fill="#1428e6" stroke="#000c9c" stroke-width="0.8"/>
<rect x="110.03" y="271.4" width="5.33" height="116.4" fill="#1428e6" stroke="#000c9c" stroke-width="0.8"/>
<rect x="115.35" y="268.9" width="5.33" height="118.9" fill="#1428e6" stroke="#000c9c" stroke-width="0.8"/>
<rect x="120.68" y="269.8" width="5.33" height="118" fill="#1428e6" stroke="#000c9c" stroke-width="0.8"/>
<rect x="126" y="269.2" width="5.33" height="118.6" fill="#1428e6" stroke="#000c9c" stroke-width="0.8"/>
<rect x="131.33" y="269.8" width="5.33" height="118" fill="#1428e6" stroke="#000c9c" stroke-width="0.8"/>
<rect x="136.65" y="278.1" width="5.33" height="109.7" fill="#1428e6" stroke="#000c9c" stroke-width="0.8"/>
<rect x="141.97" y="284.4" width="5.33" height="103.4" fill="#1428e6" stroke="#000c9c" stroke-width="0.8"/>
<rect x="147.3" y="296.3" width="5.33" height="91.5" fill="#1428e6" stroke="#000c9c" stroke-width="0.8"/>
<rect x="152.62" y="303" width="5.33" height="84.8" fill="#1428e6" stroke="#000c9c" stroke-width="0.8"/>
<rect x="157.95" y="311.2" width="5.33" height="76.6" fill="#1428e6" stroke="#000c9c" stroke-width="0.8"/>
<rect x="163.28" y="321" width="5.33" height="66.8" fill="#1428e6" stroke="#000c9c" stroke-width="0.8"/>
<rect x="168.6" y="327.5" width="5.33" height="60.3" fill="#1428e6" stroke="#000c9c" stroke-width="0.8"/>
<rect x="173.93" y="334" width="5.33" height="53.8" fill="#1428e6" stroke="#000c9c" stroke-width="0.8"/>
<rect x="179.25" y="340.6" width="5.33" height="47.2" fill="#1428e6" stroke="#000c9c" stroke-width="0.8"/>
<rect x="184.58" y="347" width="5.33" height="40.8" fill="#1428e6" stroke="#000c9c" stroke-width="0.8"/>
<rect x="189.9" y="354.2" width="5.33" height="33.6" fill="#1428e6" stroke="#000c9c" stroke-width="0.8"/>
<rect x="195.22" y="357.4" width="5.33" height="30.4" fill="#1428e6" stroke="#000c9c" stroke-width="0.8"/>
<rect x="200.55" y="362.1" width="5.33" height="25.7" fill="#1428e6" stroke="#000c9c" stroke-width="0.8"/>
<rect x="205.88" y="364.9" width="5.33" height="22.9" fill="#1428e6" stroke="#000c9c" stroke-width="0.8"/>
<rect x="211.2" y="368" width="5.33" height="19.8" fill="#1428e6" stroke="#000c9c" stroke-width="0.8"/>
<rect x="216.53" y="370.8" width="5.33" height="17" fill="#1428e6" stroke="#000c9c" stroke-width="0.8"/>
<rect x="221.85" y="374.3" width="5.33" height="13.5" fill="#f87868" stroke="#8c3a30" stroke-width="0.8"/>
<rect x="227.18" y="376" width="5.33" height="11.8" fill="#f87868" stroke="#8c3a30" stroke-width="0.8"/>
<rect x="232.5" y="377.5" width="5.33" height="10.3" fill="#f87868" stroke="#8c3a30" stroke-width="0.8"/>
<rect x="237.82" y="379.7" width="5.33" height="8.1" fill="#f87868" stroke="#8c3a30" stroke-width="0.8"/>
<rect x="243.15" y="381.4" width="5.33" height="6.4" fill="#f87868" stroke="#8c3a30" stroke-width="0.8"/>
<rect x="248.47" y="381.4" width="5.33" height="6.4" fill="#f87868" stroke="#8c3a30" stroke-width="0.8"/>
<rect x="253.8" y="381.7" width="5.33" height="6.1" fill="#f87868" stroke="#8c3a30" stroke-width="0.8"/>
<rect x="259.12" y="383.1" width="5.33" height="4.7" fill="#f87868" stroke="#8c3a30" stroke-width="0.8"/>
<line x1="91.9" y1="262.4" x2="91.9" y2="387.8" stroke="#00009c" stroke-width="2.4"/>
<line x1="137" y1="262.4" x2="137" y2="387.8" stroke="#00009c" stroke-width="2.4"/>
<line x1="223.6" y1="262.4" x2="223.6" y2="387.8" stroke="#00009c" stroke-width="2.4"/>
<line x1="92" y1="349.75" x2="95.3" y2="349.75" stroke="#000" stroke-width="1"/>
<rect x="95.3" y="345" width="43.7" height="9.5" fill="#fff" stroke="#555" stroke-width="0.9"/>
<text x="96.1" y="352.4" font-size="8.4" text-anchor="start" fill="#20208c" textLength="41.5" lengthAdjust="spacingAndGlyphs">5% = 17.62</text>
<line x1="137.1" y1="338.05" x2="140.6" y2="338.05" stroke="#000" stroke-width="1"/>
<rect x="140.6" y="333.3" width="47.9" height="9.5" fill="#fff" stroke="#555" stroke-width="0.9"/>
<text x="141.4" y="340.7" font-size="8.4" text-anchor="start" fill="#20208c" textLength="45.7" lengthAdjust="spacingAndGlyphs">50% = 29.39</text>
<line x1="219.6" y1="326.45" x2="224" y2="326.45" stroke="#000" stroke-width="1"/>
<rect x="171.4" y="321.5" width="48.2" height="9.9" fill="#fff" stroke="#555" stroke-width="0.9"/>
<text x="172.2" y="329.3" font-size="8.4" text-anchor="start" fill="#20208c" textLength="46" lengthAdjust="spacingAndGlyphs">95% = 52.09</text>
<polygon points="83.7,382.2 83.7,393.4 90.5,387.8" fill="url(#gd)" stroke="#333" stroke-width="0.6"/>
<polygon points="232.1,382.2 232.1,393.4 225.3,387.8" fill="url(#gd)" stroke="#333" stroke-width="0.6"/>
<rect x="20" y="414.7" width="60.5" height="13.2" fill="#fff" stroke="#a9a9a9" stroke-width="1"/>
<rect x="242.9" y="414.7" width="60.2" height="13.2" fill="#fff" stroke="#a9a9a9" stroke-width="1"/>
<rect x="148" y="414.7" width="38.9" height="13.2" fill="#fff" stroke="#a9a9a9" stroke-width="1"/>
<text x="22.6" y="424.3" font-size="9.3" text-anchor="start" fill="#1a1a1a" textLength="19" lengthAdjust="spacingAndGlyphs">17.62</text>
<text x="245.3" y="424.3" font-size="9.3" text-anchor="start" fill="#1a1a1a" textLength="19.6" lengthAdjust="spacingAndGlyphs">52.09</text>
<text x="150.1" y="424.3" font-size="9.3" text-anchor="start" fill="#1a1a1a" textLength="20.6" lengthAdjust="spacingAndGlyphs">90.00</text>
<text x="108.3" y="424.3" font-size="9.3" text-anchor="start" fill="#1a1a1a" textLength="34.5" lengthAdjust="spacingAndGlyphs">Certainty:</text>
<text x="191.2" y="424.3" font-size="9.3" text-anchor="start" fill="#1a1a1a" textLength="6.5" lengthAdjust="spacingAndGlyphs">%</text>
<polygon points="8.5,416.5 8.5,426.1 14.5,421.3" fill="url(#gd)" stroke="#333" stroke-width="0.6"/>
<polygon points="235.2,416.5 235.2,426.1 229.2,421.3" fill="url(#gd)" stroke="#333" stroke-width="0.6"/>
<rect x="319.4" y="430.8" width="1.2" height="1.2" fill="#b8b8b8"/>
<rect x="316.9" y="430.8" width="1.2" height="1.2" fill="#b8b8b8"/>
<rect x="319.4" y="428.3" width="1.2" height="1.2" fill="#b8b8b8"/>
<rect x="314.4" y="430.8" width="1.2" height="1.2" fill="#b8b8b8"/>
<rect x="319.4" y="425.8" width="1.2" height="1.2" fill="#b8b8b8"/>
<rect x="316.9" y="428.3" width="1.2" height="1.2" fill="#b8b8b8"/></g>
<g><rect x="365.6" y="220.6" width="313.8" height="211.2" fill="#f0f0f0" stroke="#3c3c3c" stroke-width="1"/>
<rect x="371.6" y="241.6" width="302.9" height="167.7" fill="none" stroke="#fcfcfc" stroke-width="1"/>
<rect x="370.6" y="240.6" width="302.9" height="167.7" fill="none" stroke="#a4a4a4" stroke-width="1"/>
<text x="371" y="233" font-size="9.1" text-anchor="start" fill="#1a1a1a" textLength="48" lengthAdjust="spacingAndGlyphs">100,000 Trials</text>
<text x="487.8" y="233" font-size="9.1" text-anchor="start" fill="#1a1a1a" textLength="54.9" lengthAdjust="spacingAndGlyphs">Frequency View</text>
<text x="613.4" y="233" font-size="9.1" text-anchor="start" fill="#1a1a1a" textLength="58.4" lengthAdjust="spacingAndGlyphs">98,352 Displayed</text>
<text x="424.4" y="252.2" font-size="11.3" text-anchor="start" fill="#111" font-weight="bold" textLength="22.77" lengthAdjust="spacingAndGlyphs">TCR</text>
<text x="449.99" y="252.2" font-size="11.3" text-anchor="start" fill="#111" font-weight="bold" textLength="13.7" lengthAdjust="spacingAndGlyphs">for</text>
<text x="466.51" y="252.2" font-size="11.3" text-anchor="start" fill="#111" font-weight="bold" textLength="14.71" lengthAdjust="spacingAndGlyphs">girl</text>
<text x="483.63" y="252.2" font-size="11.3" text-anchor="start" fill="#111" font-weight="bold" textLength="36.16" lengthAdjust="spacingAndGlyphs">infants</text>
<text x="523.02" y="252.2" font-size="11.3" text-anchor="start" fill="#111" font-weight="bold" textLength="19.74" lengthAdjust="spacingAndGlyphs">with</text>
<text x="546.09" y="252.2" font-size="11.3" text-anchor="start" fill="#111" font-weight="bold" textLength="16.52" lengthAdjust="spacingAndGlyphs">4-6</text>
<text x="566.14" y="252.2" font-size="11.3" text-anchor="start" fill="#111" font-weight="bold" textLength="29.11" lengthAdjust="spacingAndGlyphs">month</text>
<text x="597.77" y="252.2" font-size="11.3" text-anchor="start" fill="#111" font-weight="bold" textLength="18.13" lengthAdjust="spacingAndGlyphs">age</text>
<rect x="412.5" y="263.4" width="215.5" height="122.7" fill="#fffff0" stroke="#9a9a9a" stroke-width="1"/>
<line x1="408.5" y1="386.1" x2="412.5" y2="386.1" stroke="#707070" stroke-width="1"/>
<text x="406" y="388.6" font-size="8" text-anchor="end" fill="#222">0.00</text>
<text x="654.61" y="388.6" font-size="8" text-anchor="end" fill="#222">0</text>
<line x1="412.5" y1="366.8" x2="628" y2="366.8" stroke="#858585" stroke-width="1"/>
<line x1="408.5" y1="366.8" x2="412.5" y2="366.8" stroke="#707070" stroke-width="1"/>
<line x1="628" y1="366.8" x2="632" y2="366.8" stroke="#b4b4b4" stroke-width="1"/>
<text x="406" y="369.3" font-size="8" text-anchor="end" fill="#222">0.01</text>
<text x="654.61" y="369.3" font-size="8" text-anchor="end" fill="#222">1,000</text>
<line x1="412.5" y1="347.5" x2="628" y2="347.5" stroke="#858585" stroke-width="1"/>
<line x1="408.5" y1="347.5" x2="412.5" y2="347.5" stroke="#707070" stroke-width="1"/>
<line x1="628" y1="347.5" x2="632" y2="347.5" stroke="#b4b4b4" stroke-width="1"/>
<text x="406" y="350" font-size="8" text-anchor="end" fill="#222">0.02</text>
<text x="654.61" y="350" font-size="8" text-anchor="end" fill="#222">2,000</text>
<line x1="412.5" y1="328.2" x2="628" y2="328.2" stroke="#858585" stroke-width="1"/>
<line x1="408.5" y1="328.2" x2="412.5" y2="328.2" stroke="#707070" stroke-width="1"/>
<line x1="628" y1="328.2" x2="632" y2="328.2" stroke="#b4b4b4" stroke-width="1"/>
<text x="406" y="330.7" font-size="8" text-anchor="end" fill="#222">0.03</text>
<text x="654.61" y="330.7" font-size="8" text-anchor="end" fill="#222">3,000</text>
<line x1="412.5" y1="308.9" x2="628" y2="308.9" stroke="#858585" stroke-width="1"/>
<line x1="408.5" y1="308.9" x2="412.5" y2="308.9" stroke="#707070" stroke-width="1"/>
<line x1="628" y1="308.9" x2="632" y2="308.9" stroke="#b4b4b4" stroke-width="1"/>
<text x="406" y="311.4" font-size="8" text-anchor="end" fill="#222">0.04</text>
<text x="654.61" y="311.4" font-size="8" text-anchor="end" fill="#222">4,000</text>
<line x1="412.5" y1="289.6" x2="628" y2="289.6" stroke="#858585" stroke-width="1"/>
<line x1="408.5" y1="289.6" x2="412.5" y2="289.6" stroke="#707070" stroke-width="1"/>
<line x1="628" y1="289.6" x2="632" y2="289.6" stroke="#b4b4b4" stroke-width="1"/>
<text x="406" y="292.1" font-size="8" text-anchor="end" fill="#222">0.05</text>
<text x="654.61" y="292.1" font-size="8" text-anchor="end" fill="#222">5,000</text>
<line x1="412.5" y1="270.3" x2="628" y2="270.3" stroke="#858585" stroke-width="1"/>
<line x1="408.5" y1="270.3" x2="412.5" y2="270.3" stroke="#707070" stroke-width="1"/>
<line x1="628" y1="270.3" x2="632" y2="270.3" stroke="#b4b4b4" stroke-width="1"/>
<text x="406" y="272.8" font-size="8" text-anchor="end" fill="#222">0.06</text>
<text x="654.61" y="272.8" font-size="8" text-anchor="end" fill="#222">6,000</text>
<text transform="translate(384.08,324.75) rotate(-90)" font-size="10.5" text-anchor="middle" fill="#3a3a3a" textLength="50" lengthAdjust="spacingAndGlyphs">Probability</text>
<text transform="translate(660.63,324.75) rotate(90)" font-size="10.5" text-anchor="middle" fill="#3a3a3a" textLength="51" lengthAdjust="spacingAndGlyphs">Frequency</text>
<line x1="468.6" y1="386.1" x2="468.6" y2="390.1" stroke="#707070" stroke-width="1"/>
<text x="468.6" y="398.3" font-size="8" text-anchor="middle" fill="#222">1.00E-2</text>
<line x1="553.2" y1="386.1" x2="553.2" y2="390.1" stroke="#707070" stroke-width="1"/>
<text x="553.2" y="398.3" font-size="8" text-anchor="middle" fill="#222">2.00E-2</text>
<rect x="422.3" y="384.74" width="5.26" height="1.36" fill="#f87868" stroke="#8c3a30" stroke-width="0.8"/>
<rect x="427.56" y="382.02" width="5.26" height="4.08" fill="#f87868" stroke="#8c3a30" stroke-width="0.8"/>
<rect x="432.82" y="375.79" width="5.26" height="10.31" fill="#f87868" stroke="#8c3a30" stroke-width="0.8"/>
<rect x="438.08" y="365.49" width="5.26" height="20.61" fill="#f87868" stroke="#8c3a30" stroke-width="0.8"/>
<rect x="443.34" y="350.51" width="5.26" height="35.59" fill="#1428e6" stroke="#000c9c" stroke-width="0.8"/>
<rect x="448.6" y="331.75" width="5.26" height="54.35" fill="#1428e6" stroke="#000c9c" stroke-width="0.8"/>
<rect x="453.86" y="313.76" width="5.26" height="72.34" fill="#1428e6" stroke="#000c9c" stroke-width="0.8"/>
<rect x="459.12" y="295.29" width="5.26" height="90.81" fill="#1428e6" stroke="#000c9c" stroke-width="0.8"/>
<rect x="464.38" y="284.4" width="5.26" height="101.7" fill="#1428e6" stroke="#000c9c" stroke-width="0.8"/>
<rect x="469.64" y="272.93" width="5.26" height="113.17" fill="#1428e6" stroke="#000c9c" stroke-width="0.8"/>
<rect x="474.9" y="270.49" width="5.26" height="115.61" fill="#1428e6" stroke="#000c9c" stroke-width="0.8"/>
<rect x="480.16" y="271.37" width="5.26" height="114.73" fill="#1428e6" stroke="#000c9c" stroke-width="0.8"/>
<rect x="485.42" y="270.79" width="5.26" height="115.31" fill="#1428e6" stroke="#000c9c" stroke-width="0.8"/>
<rect x="490.68" y="271.37" width="5.26" height="114.73" fill="#1428e6" stroke="#000c9c" stroke-width="0.8"/>
<rect x="495.94" y="279.44" width="5.26" height="106.66" fill="#1428e6" stroke="#000c9c" stroke-width="0.8"/>
<rect x="501.2" y="285.56" width="5.26" height="100.54" fill="#1428e6" stroke="#000c9c" stroke-width="0.8"/>
<rect x="506.46" y="297.14" width="5.26" height="88.96" fill="#1428e6" stroke="#000c9c" stroke-width="0.8"/>
<rect x="511.72" y="303.65" width="5.26" height="82.45" fill="#1428e6" stroke="#000c9c" stroke-width="0.8"/>
<rect x="516.98" y="311.62" width="5.26" height="74.48" fill="#1428e6" stroke="#000c9c" stroke-width="0.8"/>
<rect x="522.24" y="321.15" width="5.26" height="64.95" fill="#1428e6" stroke="#000c9c" stroke-width="0.8"/>
<rect x="527.5" y="327.47" width="5.26" height="58.63" fill="#1428e6" stroke="#000c9c" stroke-width="0.8"/>
<rect x="532.76" y="333.79" width="5.26" height="52.31" fill="#1428e6" stroke="#000c9c" stroke-width="0.8"/>
<rect x="538.02" y="340.21" width="5.26" height="45.89" fill="#1428e6" stroke="#000c9c" stroke-width="0.8"/>
<rect x="543.28" y="346.43" width="5.26" height="39.67" fill="#1428e6" stroke="#000c9c" stroke-width="0.8"/>
<rect x="548.54" y="353.43" width="5.26" height="32.67" fill="#1428e6" stroke="#000c9c" stroke-width="0.8"/>
<rect x="553.8" y="356.54" width="5.26" height="29.56" fill="#1428e6" stroke="#000c9c" stroke-width="0.8"/>
<rect x="559.06" y="361.11" width="5.26" height="24.99" fill="#f87868" stroke="#8c3a30" stroke-width="0.8"/>
<rect x="564.32" y="363.83" width="5.26" height="22.27" fill="#f87868" stroke="#8c3a30" stroke-width="0.8"/>
<rect x="569.58" y="366.85" width="5.26" height="19.25" fill="#f87868" stroke="#8c3a30" stroke-width="0.8"/>
<rect x="574.84" y="369.57" width="5.26" height="16.53" fill="#f87868" stroke="#8c3a30" stroke-width="0.8"/>
<rect x="580.1" y="372.97" width="5.26" height="13.13" fill="#f87868" stroke="#8c3a30" stroke-width="0.8"/>
<rect x="585.36" y="374.63" width="5.26" height="11.47" fill="#f87868" stroke="#8c3a30" stroke-width="0.8"/>
<rect x="590.62" y="376.09" width="5.26" height="10.01" fill="#f87868" stroke="#8c3a30" stroke-width="0.8"/>
<rect x="595.88" y="378.22" width="5.26" height="7.88" fill="#f87868" stroke="#8c3a30" stroke-width="0.8"/>
<rect x="601.14" y="379.88" width="5.26" height="6.22" fill="#f87868" stroke="#8c3a30" stroke-width="0.8"/>
<rect x="606.4" y="379.88" width="5.26" height="6.22" fill="#f87868" stroke="#8c3a30" stroke-width="0.8"/>
<rect x="611.66" y="380.17" width="5.26" height="5.93" fill="#f87868" stroke="#8c3a30" stroke-width="0.8"/>
<rect x="616.92" y="381.53" width="5.26" height="4.57" fill="#f87868" stroke="#8c3a30" stroke-width="0.8"/>
<line x1="451.1" y1="263.4" x2="451.1" y2="386.1" stroke="#00009c" stroke-width="2.4"/>
<line x1="495.5" y1="263.4" x2="495.5" y2="386.1" stroke="#00009c" stroke-width="2.4"/>
<line x1="581.5" y1="263.4" x2="581.5" y2="386.1" stroke="#00009c" stroke-width="2.4"/>
<line x1="451.1" y1="347.8" x2="455" y2="347.8" stroke="#000" stroke-width="1"/>
<rect x="455" y="342.8" width="51.2" height="10" fill="#fff" stroke="#555" stroke-width="0.9"/>
<text x="455.8" y="350.7" font-size="8.4" text-anchor="start" fill="#20208c" textLength="49" lengthAdjust="spacingAndGlyphs">5% = 7.93E-3</text>
<line x1="495.5" y1="336.25" x2="499.2" y2="336.25" stroke="#000" stroke-width="1"/>
<rect x="499.2" y="331.4" width="55.7" height="9.7" fill="#fff" stroke="#555" stroke-width="0.9"/>
<text x="500" y="339" font-size="8.4" text-anchor="start" fill="#20208c" textLength="53.5" lengthAdjust="spacingAndGlyphs">50% = 1.32E-2</text>
<line x1="577.1" y1="324.75" x2="581.5" y2="324.75" stroke="#000" stroke-width="1"/>
<rect x="521" y="319.8" width="56.1" height="9.9" fill="#fff" stroke="#555" stroke-width="0.9"/>
<text x="521.8" y="327.6" font-size="8.4" text-anchor="start" fill="#20208c" textLength="53.9" lengthAdjust="spacingAndGlyphs">95% = 2.34E-2</text>
<polygon points="435.8,380.5 435.8,391.7 442.6,386.1" fill="url(#gl)" stroke="#55557a" stroke-width="0.6"/>
<polygon points="569.8,380.5 569.8,391.7 563,386.1" fill="url(#gl)" stroke="#55557a" stroke-width="0.6"/>
<rect x="380" y="413.1" width="59.5" height="12.8" fill="#fff" stroke="#a9a9a9" stroke-width="1"/>
<rect x="600.8" y="413.1" width="60.2" height="12.8" fill="#fff" stroke="#a9a9a9" stroke-width="1"/>
<rect x="507.4" y="413.1" width="38.3" height="12.8" fill="#fff" stroke="#a9a9a9" stroke-width="1"/>
<text x="382.6" y="422.3" font-size="9.3" text-anchor="start" fill="#1a1a1a" textLength="27.8" lengthAdjust="spacingAndGlyphs">6.96E-3</text>
<text x="603.2" y="422.3" font-size="9.3" text-anchor="start" fill="#1a1a1a" textLength="27.2" lengthAdjust="spacingAndGlyphs">2.10E-2</text>
<text x="509.5" y="422.3" font-size="9.3" text-anchor="start" fill="#1a1a1a" textLength="20.6" lengthAdjust="spacingAndGlyphs">90.00</text>
<text x="467.7" y="422.3" font-size="9.3" text-anchor="start" fill="#1a1a1a" textLength="34.5" lengthAdjust="spacingAndGlyphs">Certainty:</text>
<text x="550.3" y="422.3" font-size="9.3" text-anchor="start" fill="#1a1a1a" textLength="6.5" lengthAdjust="spacingAndGlyphs">%</text>
<polygon points="368.5,414.7 368.5,424.3 374.5,419.5" fill="url(#gd)" stroke="#333" stroke-width="0.6"/>
<polygon points="593.4,414.7 593.4,424.3 587.4,419.5" fill="url(#gd)" stroke="#333" stroke-width="0.6"/>
<rect x="676.4" y="428.8" width="1.2" height="1.2" fill="#b8b8b8"/>
<rect x="673.9" y="428.8" width="1.2" height="1.2" fill="#b8b8b8"/>
<rect x="676.4" y="426.3" width="1.2" height="1.2" fill="#b8b8b8"/>
<rect x="671.4" y="428.8" width="1.2" height="1.2" fill="#b8b8b8"/>
<rect x="676.4" y="423.8" width="1.2" height="1.2" fill="#b8b8b8"/>
<rect x="673.9" y="426.3" width="1.2" height="1.2" fill="#b8b8b8"/></g>
<g><rect x="3.6" y="439.6" width="319.8" height="216.5" fill="#f0f0f0" stroke="#3c3c3c" stroke-width="1"/>
<rect x="10.3" y="461.5" width="308.1" height="171.7" fill="none" stroke="#fcfcfc" stroke-width="1"/>
<rect x="9.3" y="460.5" width="308.1" height="171.7" fill="none" stroke="#a4a4a4" stroke-width="1"/>
<text x="9.4" y="452.4" font-size="9.1" text-anchor="start" fill="#1a1a1a" textLength="48.7" lengthAdjust="spacingAndGlyphs">100,000 Trials</text>
<text x="129.5" y="452.4" font-size="9.1" text-anchor="start" fill="#1a1a1a" textLength="55.3" lengthAdjust="spacingAndGlyphs">Frequency View</text>
<text x="256.5" y="452.4" font-size="9.1" text-anchor="start" fill="#1a1a1a" textLength="59.7" lengthAdjust="spacingAndGlyphs">98,303 Displayed</text>
<text x="58.8" y="472.1" font-size="11.3" text-anchor="start" fill="#111" font-weight="bold" textLength="31.73" lengthAdjust="spacingAndGlyphs">TTHQ</text>
<text x="93.42" y="472.1" font-size="11.3" text-anchor="start" fill="#111" font-weight="bold" textLength="14.01" lengthAdjust="spacingAndGlyphs">for</text>
<text x="110.31" y="472.1" font-size="11.3" text-anchor="start" fill="#111" font-weight="bold" textLength="15.04" lengthAdjust="spacingAndGlyphs">girl</text>
<text x="127.83" y="472.1" font-size="11.3" text-anchor="start" fill="#111" font-weight="bold" textLength="36.99" lengthAdjust="spacingAndGlyphs">infants</text>
<text x="168.11" y="472.1" font-size="11.3" text-anchor="start" fill="#111" font-weight="bold" textLength="20.19" lengthAdjust="spacingAndGlyphs">with</text>
<text x="191.7" y="472.1" font-size="11.3" text-anchor="start" fill="#111" font-weight="bold" textLength="16.9" lengthAdjust="spacingAndGlyphs">7-9</text>
<text x="212.21" y="472.1" font-size="11.3" text-anchor="start" fill="#111" font-weight="bold" textLength="29.77" lengthAdjust="spacingAndGlyphs">month</text>
<text x="244.56" y="472.1" font-size="11.3" text-anchor="start" fill="#111" font-weight="bold" textLength="18.54" lengthAdjust="spacingAndGlyphs">age</text>
<rect x="51.6" y="483.1" width="219.4" height="126.6" fill="#fffff0" stroke="#9a9a9a" stroke-width="1"/>
<line x1="47.6" y1="609.7" x2="51.6" y2="609.7" stroke="#707070" stroke-width="1"/>
<text x="45.1" y="612.2" font-size="8" text-anchor="end" fill="#222">0.00</text>
<text x="298.6" y="612.2" font-size="8" text-anchor="end" fill="#222">0</text>
<line x1="51.6" y1="590.4" x2="271" y2="590.4" stroke="#858585" stroke-width="1"/>
<line x1="47.6" y1="590.4" x2="51.6" y2="590.4" stroke="#707070" stroke-width="1"/>
<line x1="271" y1="590.4" x2="275" y2="590.4" stroke="#b4b4b4" stroke-width="1"/>
<text x="45.1" y="592.9" font-size="8" text-anchor="end" fill="#222">0.01</text>
<text x="298.6" y="592.9" font-size="8" text-anchor="end" fill="#222">1,000</text>
<line x1="51.6" y1="571.1" x2="271" y2="571.1" stroke="#858585" stroke-width="1"/>
<line x1="47.6" y1="571.1" x2="51.6" y2="571.1" stroke="#707070" stroke-width="1"/>
<line x1="271" y1="571.1" x2="275" y2="571.1" stroke="#b4b4b4" stroke-width="1"/>
<text x="45.1" y="573.6" font-size="8" text-anchor="end" fill="#222">0.02</text>
<text x="298.6" y="573.6" font-size="8" text-anchor="end" fill="#222">2,000</text>
<line x1="51.6" y1="551.8" x2="271" y2="551.8" stroke="#858585" stroke-width="1"/>
<line x1="47.6" y1="551.8" x2="51.6" y2="551.8" stroke="#707070" stroke-width="1"/>
<line x1="271" y1="551.8" x2="275" y2="551.8" stroke="#b4b4b4" stroke-width="1"/>
<text x="45.1" y="554.3" font-size="8" text-anchor="end" fill="#222">0.03</text>
<text x="298.6" y="554.3" font-size="8" text-anchor="end" fill="#222">3,000</text>
<line x1="51.6" y1="532.5" x2="271" y2="532.5" stroke="#858585" stroke-width="1"/>
<line x1="47.6" y1="532.5" x2="51.6" y2="532.5" stroke="#707070" stroke-width="1"/>
<line x1="271" y1="532.5" x2="275" y2="532.5" stroke="#b4b4b4" stroke-width="1"/>
<text x="45.1" y="535" font-size="8" text-anchor="end" fill="#222">0.04</text>
<text x="298.6" y="535" font-size="8" text-anchor="end" fill="#222">4,000</text>
<line x1="51.6" y1="513.2" x2="271" y2="513.2" stroke="#858585" stroke-width="1"/>
<line x1="47.6" y1="513.2" x2="51.6" y2="513.2" stroke="#707070" stroke-width="1"/>
<line x1="271" y1="513.2" x2="275" y2="513.2" stroke="#b4b4b4" stroke-width="1"/>
<text x="45.1" y="515.7" font-size="8" text-anchor="end" fill="#222">0.05</text>
<text x="298.6" y="515.7" font-size="8" text-anchor="end" fill="#222">5,000</text>
<line x1="51.6" y1="493.9" x2="271" y2="493.9" stroke="#858585" stroke-width="1"/>
<line x1="47.6" y1="493.9" x2="51.6" y2="493.9" stroke="#707070" stroke-width="1"/>
<line x1="271" y1="493.9" x2="275" y2="493.9" stroke="#b4b4b4" stroke-width="1"/>
<text x="45.1" y="496.4" font-size="8" text-anchor="end" fill="#222">0.06</text>
<text x="298.6" y="496.4" font-size="8" text-anchor="end" fill="#222">6,000</text>
<text transform="translate(22.64,546.4) rotate(-90)" font-size="10.5" text-anchor="middle" fill="#3a3a3a" textLength="50" lengthAdjust="spacingAndGlyphs">Probability</text>
<text transform="translate(304.3,546.4) rotate(90)" font-size="10.5" text-anchor="middle" fill="#3a3a3a" textLength="51" lengthAdjust="spacingAndGlyphs">Frequency</text>
<line x1="69.6" y1="609.7" x2="69.6" y2="613.7" stroke="#707070" stroke-width="1"/>
<text x="69.6" y="622.7" font-size="8" text-anchor="middle" fill="#222">10.00</text>
<line x1="112.3" y1="609.7" x2="112.3" y2="613.7" stroke="#707070" stroke-width="1"/>
<text x="112.3" y="622.7" font-size="8" text-anchor="middle" fill="#222">20.00</text>
<line x1="155" y1="609.7" x2="155" y2="613.7" stroke="#707070" stroke-width="1"/>
<text x="155" y="622.7" font-size="8" text-anchor="middle" fill="#222">30.00</text>
<line x1="197.7" y1="609.7" x2="197.7" y2="613.7" stroke="#707070" stroke-width="1"/>
<text x="197.7" y="622.7" font-size="8" text-anchor="middle" fill="#222">40.00</text>
<line x1="240.4" y1="609.7" x2="240.4" y2="613.7" stroke="#707070" stroke-width="1"/>
<text x="240.4" y="622.7" font-size="8" text-anchor="middle" fill="#222">50.00</text>
<rect x="61.4" y="609.1" width="5.36" height="0.6" fill="#f87868" stroke="#8c3a30" stroke-width="0.8"/>
<rect x="66.76" y="607.4" width="5.36" height="2.3" fill="#f87868" stroke="#8c3a30" stroke-width="0.8"/>
<rect x="72.12" y="603.6" width="5.36" height="6.1" fill="#f87868" stroke="#8c3a30" stroke-width="0.8"/>
<rect x="77.48" y="594.8" width="5.36" height="14.9" fill="#f87868" stroke="#8c3a30" stroke-width="0.8"/>
<rect x="82.84" y="581.4" width="5.36" height="28.3" fill="#f87868" stroke="#8c3a30" stroke-width="0.8"/>
<rect x="88.2" y="563.8" width="5.36" height="45.9" fill="#f87868" stroke="#8c3a30" stroke-width="0.8"/>
<rect x="93.56" y="544.5" width="5.36" height="65.2" fill="#1428e6" stroke="#000c9c" stroke-width="0.8"/>
<rect x="98.92" y="527.7" width="5.36" height="82" fill="#1428e6" stroke="#000c9c" stroke-width="0.8"/>
<rect x="104.28" y="510.9" width="5.36" height="98.8" fill="#1428e6" stroke="#000c9c" stroke-width="0.8"/>
<rect x="109.64" y="501.3" width="5.36" height="108.4" fill="#1428e6" stroke="#000c9c" stroke-width="0.8"/>
<rect x="115" y="490.8" width="5.36" height="118.9" fill="#1428e6" stroke="#000c9c" stroke-width="0.8"/>
<rect x="120.36" y="489.4" width="5.36" height="120.3" fill="#1428e6" stroke="#000c9c" stroke-width="0.8"/>
<rect x="125.72" y="490.8" width="5.36" height="118.9" fill="#1428e6" stroke="#000c9c" stroke-width="0.8"/>
<rect x="131.08" y="494.4" width="5.36" height="115.3" fill="#1428e6" stroke="#000c9c" stroke-width="0.8"/>
<rect x="136.44" y="498.3" width="5.36" height="111.4" fill="#1428e6" stroke="#000c9c" stroke-width="0.8"/>
<rect x="141.8" y="506.7" width="5.36" height="103" fill="#1428e6" stroke="#000c9c" stroke-width="0.8"/>
<rect x="147.16" y="511.2" width="5.36" height="98.5" fill="#1428e6" stroke="#000c9c" stroke-width="0.8"/>
<rect x="152.52" y="521.5" width="5.36" height="88.2" fill="#1428e6" stroke="#000c9c" stroke-width="0.8"/>
<rect x="157.88" y="531.5" width="5.36" height="78.2" fill="#1428e6" stroke="#000c9c" stroke-width="0.8"/>
<rect x="163.24" y="541.6" width="5.36" height="68.1" fill="#1428e6" stroke="#000c9c" stroke-width="0.8"/>
<rect x="168.6" y="550" width="5.36" height="59.7" fill="#1428e6" stroke="#000c9c" stroke-width="0.8"/>
<rect x="173.96" y="556" width="5.36" height="53.7" fill="#1428e6" stroke="#000c9c" stroke-width="0.8"/>
<rect x="179.32" y="562.3" width="5.36" height="47.4" fill="#1428e6" stroke="#000c9c" stroke-width="0.8"/>
<rect x="184.68" y="568.3" width="5.36" height="41.4" fill="#1428e6" stroke="#000c9c" stroke-width="0.8"/>
<rect x="190.04" y="575" width="5.36" height="34.7" fill="#1428e6" stroke="#000c9c" stroke-width="0.8"/>
<rect x="195.4" y="579.2" width="5.36" height="30.5" fill="#1428e6" stroke="#000c9c" stroke-width="0.8"/>
<rect x="200.76" y="584.3" width="5.36" height="25.4" fill="#1428e6" stroke="#000c9c" stroke-width="0.8"/>
<rect x="206.12" y="586.9" width="5.36" height="22.8" fill="#1428e6" stroke="#000c9c" stroke-width="0.8"/>
<rect x="211.48" y="589.3" width="5.36" height="20.4" fill="#1428e6" stroke="#000c9c" stroke-width="0.8"/>
<rect x="216.84" y="594" width="5.36" height="15.7" fill="#1428e6" stroke="#000c9c" stroke-width="0.8"/>
<rect x="222.2" y="594.5" width="5.36" height="15.2" fill="#1428e6" stroke="#000c9c" stroke-width="0.8"/>
<rect x="227.56" y="597.3" width="5.36" height="12.4" fill="#f87868" stroke="#8c3a30" stroke-width="0.8"/>
<rect x="232.92" y="599.5" width="5.36" height="10.2" fill="#f87868" stroke="#8c3a30" stroke-width="0.8"/>
<rect x="238.28" y="600.2" width="5.36" height="9.5" fill="#f87868" stroke="#8c3a30" stroke-width="0.8"/>
<rect x="243.64" y="602.4" width="5.36" height="7.3" fill="#f87868" stroke="#8c3a30" stroke-width="0.8"/>
<rect x="249" y="603.2" width="5.36" height="6.5" fill="#f87868" stroke="#8c3a30" stroke-width="0.8"/>
<rect x="254.36" y="604" width="5.36" height="5.7" fill="#f87868" stroke="#8c3a30" stroke-width="0.8"/>
<rect x="259.72" y="604.9" width="5.36" height="4.8" fill="#f87868" stroke="#8c3a30" stroke-width="0.8"/>
<line x1="93.5" y1="483.1" x2="93.5" y2="609.7" stroke="#00009c" stroke-width="2.4"/>
<line x1="138.3" y1="483.1" x2="138.3" y2="609.7" stroke="#00009c" stroke-width="2.4"/>
<line x1="226" y1="483.1" x2="226" y2="609.7" stroke="#00009c" stroke-width="2.4"/>
<line x1="93.5" y1="571.35" x2="96.7" y2="571.35" stroke="#000" stroke-width="1"/>
<rect x="96.7" y="566.3" width="44.5" height="10.1" fill="#fff" stroke="#555" stroke-width="0.9"/>
<text x="97.5" y="574.3" font-size="8.4" text-anchor="start" fill="#20208c" textLength="42.3" lengthAdjust="spacingAndGlyphs">5% = 15.61</text>
<line x1="138.3" y1="559.55" x2="141.5" y2="559.55" stroke="#000" stroke-width="1"/>
<rect x="141.5" y="554.9" width="48.7" height="9.3" fill="#fff" stroke="#555" stroke-width="0.9"/>
<text x="142.3" y="562.1" font-size="8.4" text-anchor="start" fill="#20208c" textLength="46.5" lengthAdjust="spacingAndGlyphs">50% = 26.14</text>
<line x1="221.5" y1="547.45" x2="226" y2="547.45" stroke="#000" stroke-width="1"/>
<rect x="173.1" y="542.5" width="48.4" height="9.9" fill="#fff" stroke="#555" stroke-width="0.9"/>
<text x="173.9" y="550.3" font-size="8.4" text-anchor="start" fill="#20208c" textLength="46.2" lengthAdjust="spacingAndGlyphs">95% = 46.52</text>
<polygon points="85.9,604.1 85.9,615.3 92.7,609.7" fill="url(#gd)" stroke="#333" stroke-width="0.6"/>
<polygon points="234,604.1 234,615.3 227.2,609.7" fill="url(#gd)" stroke="#333" stroke-width="0.6"/>
<rect x="18.7" y="637" width="60.8" height="13.3" fill="#fff" stroke="#a9a9a9" stroke-width="1"/>
<rect x="243.5" y="637" width="61.2" height="13.3" fill="#fff" stroke="#a9a9a9" stroke-width="1"/>
<rect x="148" y="637" width="38.9" height="13.3" fill="#fff" stroke="#a9a9a9" stroke-width="1"/>
<text x="21.3" y="646.7" font-size="9.3" text-anchor="start" fill="#1a1a1a" textLength="19" lengthAdjust="spacingAndGlyphs">15.61</text>
<text x="245.9" y="646.7" font-size="9.3" text-anchor="start" fill="#1a1a1a" textLength="19.6" lengthAdjust="spacingAndGlyphs">46.52</text>
<text x="150.1" y="646.7" font-size="9.3" text-anchor="start" fill="#1a1a1a" textLength="20.6" lengthAdjust="spacingAndGlyphs">90.00</text>
<text x="107.7" y="646.7" font-size="9.3" text-anchor="start" fill="#1a1a1a" textLength="35.1" lengthAdjust="spacingAndGlyphs">Certainty:</text>
<text x="192" y="646.7" font-size="9.3" text-anchor="start" fill="#1a1a1a" textLength="6.5" lengthAdjust="spacingAndGlyphs">%</text>
<polygon points="6.9,638.85 6.9,648.45 12.9,643.65" fill="url(#gd)" stroke="#333" stroke-width="0.6"/>
<polygon points="236,638.85 236,648.45 230,643.65" fill="url(#gd)" stroke="#333" stroke-width="0.6"/>
<rect x="320.4" y="653.1" width="1.2" height="1.2" fill="#b8b8b8"/>
<rect x="317.9" y="653.1" width="1.2" height="1.2" fill="#b8b8b8"/>
<rect x="320.4" y="650.6" width="1.2" height="1.2" fill="#b8b8b8"/>
<rect x="315.4" y="653.1" width="1.2" height="1.2" fill="#b8b8b8"/>
<rect x="320.4" y="648.1" width="1.2" height="1.2" fill="#b8b8b8"/>
<rect x="317.9" y="650.6" width="1.2" height="1.2" fill="#b8b8b8"/></g>
<g><rect x="361.6" y="440.9" width="320.9" height="214.2" fill="#f0f0f0" stroke="#3c3c3c" stroke-width="1"/>
<rect x="367.3" y="461.4" width="308.7" height="169" fill="none" stroke="#a6a6a6" stroke-width="1"/>
<rect x="368.3" y="462.4" width="306.7" height="167" fill="none" stroke="#e4e4e4" stroke-width="1"/>
<rect x="368.3" y="462.4" width="306.7" height="167" fill="none" stroke="#4a4a4a" stroke-width="1" stroke-dasharray="1.6 1.7"/>
<text x="367.6" y="453.7" font-size="9.1" text-anchor="start" fill="#1a1a1a" textLength="48.6" lengthAdjust="spacingAndGlyphs">100,000 Trials</text>
<text x="486.7" y="453.7" font-size="9.1" text-anchor="start" fill="#1a1a1a" textLength="56" lengthAdjust="spacingAndGlyphs">Frequency View</text>
<text x="615" y="453.7" font-size="9.1" text-anchor="start" fill="#1a1a1a" textLength="60.6" lengthAdjust="spacingAndGlyphs">98,303 Displayed</text>
<text x="422.8" y="473.1" font-size="11.3" text-anchor="start" fill="#111" font-weight="bold" textLength="23.13" lengthAdjust="spacingAndGlyphs">TCR</text>
<text x="448.8" y="473.1" font-size="11.3" text-anchor="start" fill="#111" font-weight="bold" textLength="13.92" lengthAdjust="spacingAndGlyphs">for</text>
<text x="465.59" y="473.1" font-size="11.3" text-anchor="start" fill="#111" font-weight="bold" textLength="14.95" lengthAdjust="spacingAndGlyphs">girl</text>
<text x="482.99" y="473.1" font-size="11.3" text-anchor="start" fill="#111" font-weight="bold" textLength="36.75" lengthAdjust="spacingAndGlyphs">infants</text>
<text x="523.02" y="473.1" font-size="11.3" text-anchor="start" fill="#111" font-weight="bold" textLength="20.06" lengthAdjust="spacingAndGlyphs">with</text>
<text x="546.46" y="473.1" font-size="11.3" text-anchor="start" fill="#111" font-weight="bold" textLength="16.79" lengthAdjust="spacingAndGlyphs">7-9</text>
<text x="566.83" y="473.1" font-size="11.3" text-anchor="start" fill="#111" font-weight="bold" textLength="29.58" lengthAdjust="spacingAndGlyphs">month</text>
<text x="598.97" y="473.1" font-size="11.3" text-anchor="start" fill="#111" font-weight="bold" textLength="18.43" lengthAdjust="spacingAndGlyphs">age</text>
<rect x="409.4" y="484.5" width="220.3" height="123.9" fill="#fffff0" stroke="#9a9a9a" stroke-width="1"/>
<line x1="405.4" y1="608.4" x2="409.4" y2="608.4" stroke="#707070" stroke-width="1"/>
<text x="402.9" y="610.9" font-size="8" text-anchor="end" fill="#222">0.00</text>
<text x="657.1" y="610.9" font-size="8" text-anchor="end" fill="#222">0</text>
<line x1="409.4" y1="589.4" x2="629.7" y2="589.4" stroke="#858585" stroke-width="1"/>
<line x1="405.4" y1="589.4" x2="409.4" y2="589.4" stroke="#707070" stroke-width="1"/>
<line x1="629.7" y1="589.4" x2="633.7" y2="589.4" stroke="#b4b4b4" stroke-width="1"/>
<text x="402.9" y="591.9" font-size="8" text-anchor="end" fill="#222">0.01</text>
<text x="657.1" y="591.9" font-size="8" text-anchor="end" fill="#222">1,000</text>
<line x1="409.4" y1="570.4" x2="629.7" y2="570.4" stroke="#858585" stroke-width="1"/>
<line x1="405.4" y1="570.4" x2="409.4" y2="570.4" stroke="#707070" stroke-width="1"/>
<line x1="629.7" y1="570.4" x2="633.7" y2="570.4" stroke="#b4b4b4" stroke-width="1"/>
<text x="402.9" y="572.9" font-size="8" text-anchor="end" fill="#222">0.02</text>
<text x="657.1" y="572.9" font-size="8" text-anchor="end" fill="#222">2,000</text>
<line x1="409.4" y1="551.4" x2="629.7" y2="551.4" stroke="#858585" stroke-width="1"/>
<line x1="405.4" y1="551.4" x2="409.4" y2="551.4" stroke="#707070" stroke-width="1"/>
<line x1="629.7" y1="551.4" x2="633.7" y2="551.4" stroke="#b4b4b4" stroke-width="1"/>
<text x="402.9" y="553.9" font-size="8" text-anchor="end" fill="#222">0.03</text>
<text x="657.1" y="553.9" font-size="8" text-anchor="end" fill="#222">3,000</text>
<line x1="409.4" y1="532.4" x2="629.7" y2="532.4" stroke="#858585" stroke-width="1"/>
<line x1="405.4" y1="532.4" x2="409.4" y2="532.4" stroke="#707070" stroke-width="1"/>
<line x1="629.7" y1="532.4" x2="633.7" y2="532.4" stroke="#b4b4b4" stroke-width="1"/>
<text x="402.9" y="534.9" font-size="8" text-anchor="end" fill="#222">0.04</text>
<text x="657.1" y="534.9" font-size="8" text-anchor="end" fill="#222">4,000</text>
<line x1="409.4" y1="513.4" x2="629.7" y2="513.4" stroke="#858585" stroke-width="1"/>
<line x1="405.4" y1="513.4" x2="409.4" y2="513.4" stroke="#707070" stroke-width="1"/>
<line x1="629.7" y1="513.4" x2="633.7" y2="513.4" stroke="#b4b4b4" stroke-width="1"/>
<text x="402.9" y="515.9" font-size="8" text-anchor="end" fill="#222">0.05</text>
<text x="657.1" y="515.9" font-size="8" text-anchor="end" fill="#222">5,000</text>
<line x1="409.4" y1="494.4" x2="629.7" y2="494.4" stroke="#858585" stroke-width="1"/>
<line x1="405.4" y1="494.4" x2="409.4" y2="494.4" stroke="#707070" stroke-width="1"/>
<line x1="629.7" y1="494.4" x2="633.7" y2="494.4" stroke="#b4b4b4" stroke-width="1"/>
<text x="402.9" y="496.9" font-size="8" text-anchor="end" fill="#222">0.06</text>
<text x="657.1" y="496.9" font-size="8" text-anchor="end" fill="#222">6,000</text>
<text transform="translate(380.34,546.45) rotate(-90)" font-size="10.5" text-anchor="middle" fill="#3a3a3a" textLength="50" lengthAdjust="spacingAndGlyphs">Probability</text>
<text transform="translate(663.07,546.45) rotate(90)" font-size="10.5" text-anchor="middle" fill="#3a3a3a" textLength="51" lengthAdjust="spacingAndGlyphs">Frequency</text>
<line x1="480.5" y1="608.4" x2="480.5" y2="612.4" stroke="#707070" stroke-width="1"/>
<text x="480.5" y="620.8" font-size="8" text-anchor="middle" fill="#222">1.00E-2</text>
<line x1="574.7" y1="608.4" x2="574.7" y2="612.4" stroke="#707070" stroke-width="1"/>
<text x="574.7" y="620.8" font-size="8" text-anchor="middle" fill="#222">2.00E-2</text>
<rect x="420.1" y="607.81" width="5.35" height="0.59" fill="#f87868" stroke="#8c3a30" stroke-width="0.8"/>
<rect x="425.45" y="606.14" width="5.35" height="2.26" fill="#f87868" stroke="#8c3a30" stroke-width="0.8"/>
<rect x="430.8" y="602.39" width="5.35" height="6.01" fill="#f87868" stroke="#8c3a30" stroke-width="0.8"/>
<rect x="436.15" y="593.73" width="5.35" height="14.67" fill="#f87868" stroke="#8c3a30" stroke-width="0.8"/>
<rect x="441.5" y="580.54" width="5.35" height="27.86" fill="#f87868" stroke="#8c3a30" stroke-width="0.8"/>
<rect x="446.85" y="563.21" width="5.35" height="45.19" fill="#f87868" stroke="#8c3a30" stroke-width="0.8"/>
<rect x="452.2" y="544.21" width="5.35" height="64.19" fill="#1428e6" stroke="#000c9c" stroke-width="0.8"/>
<rect x="457.55" y="527.67" width="5.35" height="80.73" fill="#1428e6" stroke="#000c9c" stroke-width="0.8"/>
<rect x="462.9" y="511.14" width="5.35" height="97.26" fill="#1428e6" stroke="#000c9c" stroke-width="0.8"/>
<rect x="468.25" y="501.68" width="5.35" height="106.72" fill="#1428e6" stroke="#000c9c" stroke-width="0.8"/>
<rect x="473.6" y="491.35" width="5.35" height="117.05" fill="#1428e6" stroke="#000c9c" stroke-width="0.8"/>
<rect x="478.95" y="489.97" width="5.35" height="118.43" fill="#1428e6" stroke="#000c9c" stroke-width="0.8"/>
<rect x="484.3" y="491.35" width="5.35" height="117.05" fill="#1428e6" stroke="#000c9c" stroke-width="0.8"/>
<rect x="489.65" y="494.89" width="5.35" height="113.51" fill="#1428e6" stroke="#000c9c" stroke-width="0.8"/>
<rect x="495" y="498.73" width="5.35" height="109.67" fill="#1428e6" stroke="#000c9c" stroke-width="0.8"/>
<rect x="500.35" y="507" width="5.35" height="101.4" fill="#1428e6" stroke="#000c9c" stroke-width="0.8"/>
<rect x="505.7" y="511.43" width="5.35" height="96.97" fill="#1428e6" stroke="#000c9c" stroke-width="0.8"/>
<rect x="511.05" y="521.57" width="5.35" height="86.83" fill="#1428e6" stroke="#000c9c" stroke-width="0.8"/>
<rect x="516.4" y="531.42" width="5.35" height="76.98" fill="#1428e6" stroke="#000c9c" stroke-width="0.8"/>
<rect x="521.75" y="541.36" width="5.35" height="67.04" fill="#1428e6" stroke="#000c9c" stroke-width="0.8"/>
<rect x="527.1" y="549.63" width="5.35" height="58.77" fill="#1428e6" stroke="#000c9c" stroke-width="0.8"/>
<rect x="532.45" y="555.53" width="5.35" height="52.87" fill="#1428e6" stroke="#000c9c" stroke-width="0.8"/>
<rect x="537.8" y="561.74" width="5.35" height="46.66" fill="#1428e6" stroke="#000c9c" stroke-width="0.8"/>
<rect x="543.15" y="567.64" width="5.35" height="40.76" fill="#1428e6" stroke="#000c9c" stroke-width="0.8"/>
<rect x="548.5" y="574.24" width="5.35" height="34.16" fill="#1428e6" stroke="#000c9c" stroke-width="0.8"/>
<rect x="553.85" y="578.37" width="5.35" height="30.03" fill="#1428e6" stroke="#000c9c" stroke-width="0.8"/>
<rect x="559.2" y="583.39" width="5.35" height="25.01" fill="#1428e6" stroke="#000c9c" stroke-width="0.8"/>
<rect x="564.55" y="585.95" width="5.35" height="22.45" fill="#1428e6" stroke="#000c9c" stroke-width="0.8"/>
<rect x="569.9" y="588.32" width="5.35" height="20.08" fill="#1428e6" stroke="#000c9c" stroke-width="0.8"/>
<rect x="575.25" y="592.94" width="5.35" height="15.46" fill="#1428e6" stroke="#000c9c" stroke-width="0.8"/>
<rect x="580.6" y="593.44" width="5.35" height="14.96" fill="#1428e6" stroke="#000c9c" stroke-width="0.8"/>
<rect x="585.95" y="596.19" width="5.35" height="12.21" fill="#f87868" stroke="#8c3a30" stroke-width="0.8"/>
<rect x="591.3" y="598.36" width="5.35" height="10.04" fill="#f87868" stroke="#8c3a30" stroke-width="0.8"/>
<rect x="596.65" y="599.05" width="5.35" height="9.35" fill="#f87868" stroke="#8c3a30" stroke-width="0.8"/>
<rect x="602" y="601.21" width="5.35" height="7.19" fill="#f87868" stroke="#8c3a30" stroke-width="0.8"/>
<rect x="607.35" y="602" width="5.35" height="6.4" fill="#f87868" stroke="#8c3a30" stroke-width="0.8"/>
<rect x="612.7" y="602.79" width="5.35" height="5.61" fill="#f87868" stroke="#8c3a30" stroke-width="0.8"/>
<rect x="618.05" y="603.67" width="5.35" height="4.73" fill="#f87868" stroke="#8c3a30" stroke-width="0.8"/>
<line x1="452.3" y1="484.5" x2="452.3" y2="608.4" stroke="#00009c" stroke-width="2.4"/>
<line x1="496.7" y1="484.5" x2="496.7" y2="608.4" stroke="#00009c" stroke-width="2.4"/>
<line x1="584" y1="484.5" x2="584" y2="608.4" stroke="#00009c" stroke-width="2.4"/>
<line x1="452.3" y1="569.85" x2="456.2" y2="569.85" stroke="#000" stroke-width="1"/>
<rect x="456.2" y="565" width="52" height="9.7" fill="#fff" stroke="#555" stroke-width="0.9"/>
<text x="457" y="572.6" font-size="8.4" text-anchor="start" fill="#20208c" textLength="49.8" lengthAdjust="spacingAndGlyphs">5% = 7.02E-3</text>
<line x1="496.7" y1="557.7" x2="500.7" y2="557.7" stroke="#000" stroke-width="1"/>
<rect x="500.7" y="552.9" width="57.1" height="9.6" fill="#fff" stroke="#555" stroke-width="0.9"/>
<text x="501.5" y="560.4" font-size="8.4" text-anchor="start" fill="#20208c" textLength="54.9" lengthAdjust="spacingAndGlyphs">50% = 1.18E-2</text>
<line x1="579.6" y1="546.15" x2="584" y2="546.15" stroke="#000" stroke-width="1"/>
<rect x="522.2" y="541.1" width="57.4" height="10.1" fill="#fff" stroke="#555" stroke-width="0.9"/>
<text x="523" y="549.1" font-size="8.4" text-anchor="start" fill="#20208c" textLength="55.2" lengthAdjust="spacingAndGlyphs">95% = 2.09E-2</text>
<polygon points="444.2,602.8 444.2,614 451,608.4" fill="url(#gl)" stroke="#55557a" stroke-width="0.6"/>
<polygon points="592.8,602.8 592.8,614 586,608.4" fill="url(#gl)" stroke="#55557a" stroke-width="0.6"/>
<rect x="376.8" y="635.7" width="61.5" height="13.2" fill="#fff" stroke="#a9a9a9" stroke-width="1"/>
<rect x="602.3" y="635.7" width="60.9" height="13.2" fill="#fff" stroke="#a9a9a9" stroke-width="1"/>
<rect x="507.1" y="635.7" width="38.8" height="13.2" fill="#fff" stroke="#a9a9a9" stroke-width="1"/>
<text x="379.4" y="645.3" font-size="9.3" text-anchor="start" fill="#1a1a1a" textLength="27.8" lengthAdjust="spacingAndGlyphs">6.96E-3</text>
<text x="604.7" y="645.3" font-size="9.3" text-anchor="start" fill="#1a1a1a" textLength="27.2" lengthAdjust="spacingAndGlyphs">2.10E-2</text>
<text x="509.2" y="645.3" font-size="9.3" text-anchor="start" fill="#1a1a1a" textLength="20.6" lengthAdjust="spacingAndGlyphs">90.00</text>
<text x="466.4" y="645.3" font-size="9.3" text-anchor="start" fill="#1a1a1a" textLength="35.2" lengthAdjust="spacingAndGlyphs">Certainty:</text>
<text x="550.1" y="645.3" font-size="9.3" text-anchor="start" fill="#1a1a1a" textLength="6.5" lengthAdjust="spacingAndGlyphs">%</text>
<polygon points="364.4,637.5 364.4,647.1 370.4,642.3" fill="url(#gd)" stroke="#333" stroke-width="0.6"/>
<polygon points="594.6,637.5 594.6,647.1 588.6,642.3" fill="url(#gd)" stroke="#333" stroke-width="0.6"/>
<rect x="679.5" y="652.1" width="1.2" height="1.2" fill="#b8b8b8"/>
<rect x="677" y="652.1" width="1.2" height="1.2" fill="#b8b8b8"/>
<rect x="679.5" y="649.6" width="1.2" height="1.2" fill="#b8b8b8"/>
<rect x="674.5" y="652.1" width="1.2" height="1.2" fill="#b8b8b8"/>
<rect x="679.5" y="647.1" width="1.2" height="1.2" fill="#b8b8b8"/>
<rect x="677" y="649.6" width="1.2" height="1.2" fill="#b8b8b8"/></g>
<g><rect x="1.6" y="662.5" width="323.3" height="218.4" fill="#f0f0f0" stroke="#3c3c3c" stroke-width="1"/>
<rect x="7.5" y="683" width="311" height="173.3" fill="none" stroke="#a6a6a6" stroke-width="1"/>
<rect x="8.5" y="684" width="309" height="171.3" fill="none" stroke="#e4e4e4" stroke-width="1"/>
<rect x="8.5" y="684" width="309" height="171.3" fill="none" stroke="#4a4a4a" stroke-width="1" stroke-dasharray="1.6 1.7"/>
<text x="6.9" y="675.4" font-size="9.1" text-anchor="start" fill="#1a1a1a" textLength="49.6" lengthAdjust="spacingAndGlyphs">100,000 Trials</text>
<text x="128.6" y="675.4" font-size="9.1" text-anchor="start" fill="#1a1a1a" textLength="55.8" lengthAdjust="spacingAndGlyphs">Frequency View</text>
<text x="257.2" y="675.4" font-size="9.1" text-anchor="start" fill="#1a1a1a" textLength="59.9" lengthAdjust="spacingAndGlyphs">98,274 Displayed</text>
<text x="52.5" y="694.7" font-size="11.3" text-anchor="start" fill="#111" font-weight="bold" textLength="31.93" lengthAdjust="spacingAndGlyphs">TTHQ</text>
<text x="87.33" y="694.7" font-size="11.3" text-anchor="start" fill="#111" font-weight="bold" textLength="14.1" lengthAdjust="spacingAndGlyphs">for</text>
<text x="104.34" y="694.7" font-size="11.3" text-anchor="start" fill="#111" font-weight="bold" textLength="15.14" lengthAdjust="spacingAndGlyphs">girl</text>
<text x="121.96" y="694.7" font-size="11.3" text-anchor="start" fill="#111" font-weight="bold" textLength="37.22" lengthAdjust="spacingAndGlyphs">infants</text>
<text x="162.5" y="694.7" font-size="11.3" text-anchor="start" fill="#111" font-weight="bold" textLength="20.32" lengthAdjust="spacingAndGlyphs">with</text>
<text x="186.24" y="694.7" font-size="11.3" text-anchor="start" fill="#111" font-weight="bold" textLength="28.61" lengthAdjust="spacingAndGlyphs">10-12</text>
<text x="218.48" y="694.7" font-size="11.3" text-anchor="start" fill="#111" font-weight="bold" textLength="29.96" lengthAdjust="spacingAndGlyphs">month</text>
<text x="251.04" y="694.7" font-size="11.3" text-anchor="start" fill="#111" font-weight="bold" textLength="18.66" lengthAdjust="spacingAndGlyphs">age</text>
<rect x="50" y="705.8" width="221.4" height="128.2" fill="#fffff0" stroke="#9a9a9a" stroke-width="1"/>
<line x1="46" y1="834" x2="50" y2="834" stroke="#707070" stroke-width="1"/>
<text x="43.5" y="836.5" font-size="8" text-anchor="end" fill="#222">0.00</text>
<text x="299.6" y="836.5" font-size="8" text-anchor="end" fill="#222">0</text>
<line x1="50" y1="814.1" x2="271.4" y2="814.1" stroke="#858585" stroke-width="1"/>
<line x1="46" y1="814.1" x2="50" y2="814.1" stroke="#707070" stroke-width="1"/>
<line x1="271.4" y1="814.1" x2="275.4" y2="814.1" stroke="#b4b4b4" stroke-width="1"/>
<text x="43.5" y="816.6" font-size="8" text-anchor="end" fill="#222">0.01</text>
<text x="299.6" y="816.6" font-size="8" text-anchor="end" fill="#222">1,000</text>
<line x1="50" y1="794.2" x2="271.4" y2="794.2" stroke="#858585" stroke-width="1"/>
<line x1="46" y1="794.2" x2="50" y2="794.2" stroke="#707070" stroke-width="1"/>
<line x1="271.4" y1="794.2" x2="275.4" y2="794.2" stroke="#b4b4b4" stroke-width="1"/>
<text x="43.5" y="796.7" font-size="8" text-anchor="end" fill="#222">0.02</text>
<text x="299.6" y="796.7" font-size="8" text-anchor="end" fill="#222">2,000</text>
<line x1="50" y1="774.3" x2="271.4" y2="774.3" stroke="#858585" stroke-width="1"/>
<line x1="46" y1="774.3" x2="50" y2="774.3" stroke="#707070" stroke-width="1"/>
<line x1="271.4" y1="774.3" x2="275.4" y2="774.3" stroke="#b4b4b4" stroke-width="1"/>
<text x="43.5" y="776.8" font-size="8" text-anchor="end" fill="#222">0.03</text>
<text x="299.6" y="776.8" font-size="8" text-anchor="end" fill="#222">3,000</text>
<line x1="50" y1="754.4" x2="271.4" y2="754.4" stroke="#858585" stroke-width="1"/>
<line x1="46" y1="754.4" x2="50" y2="754.4" stroke="#707070" stroke-width="1"/>
<line x1="271.4" y1="754.4" x2="275.4" y2="754.4" stroke="#b4b4b4" stroke-width="1"/>
<text x="43.5" y="756.9" font-size="8" text-anchor="end" fill="#222">0.04</text>
<text x="299.6" y="756.9" font-size="8" text-anchor="end" fill="#222">4,000</text>
<line x1="50" y1="734.5" x2="271.4" y2="734.5" stroke="#858585" stroke-width="1"/>
<line x1="46" y1="734.5" x2="50" y2="734.5" stroke="#707070" stroke-width="1"/>
<line x1="271.4" y1="734.5" x2="275.4" y2="734.5" stroke="#b4b4b4" stroke-width="1"/>
<text x="43.5" y="737" font-size="8" text-anchor="end" fill="#222">0.05</text>
<text x="299.6" y="737" font-size="8" text-anchor="end" fill="#222">5,000</text>
<line x1="50" y1="714.6" x2="271.4" y2="714.6" stroke="#858585" stroke-width="1"/>
<line x1="46" y1="714.6" x2="50" y2="714.6" stroke="#707070" stroke-width="1"/>
<line x1="271.4" y1="714.6" x2="275.4" y2="714.6" stroke="#b4b4b4" stroke-width="1"/>
<text x="43.5" y="717.1" font-size="8" text-anchor="end" fill="#222">0.06</text>
<text x="299.6" y="717.1" font-size="8" text-anchor="end" fill="#222">6,000</text>
<text transform="translate(20.73,769.9) rotate(-90)" font-size="10.5" text-anchor="middle" fill="#3a3a3a" textLength="50" lengthAdjust="spacingAndGlyphs">Probability</text>
<text transform="translate(305.02,769.9) rotate(90)" font-size="10.5" text-anchor="middle" fill="#3a3a3a" textLength="51" lengthAdjust="spacingAndGlyphs">Frequency</text>
<line x1="55.7" y1="834" x2="55.7" y2="838" stroke="#707070" stroke-width="1"/>
<text x="55.7" y="846.6" font-size="8" text-anchor="middle" fill="#222">6.00</text>
<line x1="88.45" y1="834" x2="88.45" y2="838" stroke="#707070" stroke-width="1"/>
<text x="88.45" y="846.6" font-size="8" text-anchor="middle" fill="#222">12.00</text>
<line x1="121.2" y1="834" x2="121.2" y2="838" stroke="#707070" stroke-width="1"/>
<text x="121.2" y="846.6" font-size="8" text-anchor="middle" fill="#222">18.00</text>
<line x1="153.95" y1="834" x2="153.95" y2="838" stroke="#707070" stroke-width="1"/>
<text x="153.95" y="846.6" font-size="8" text-anchor="middle" fill="#222">24.00</text>
<line x1="186.7" y1="834" x2="186.7" y2="838" stroke="#707070" stroke-width="1"/>
<text x="186.7" y="846.6" font-size="8" text-anchor="middle" fill="#222">30.00</text>
<line x1="219.45" y1="834" x2="219.45" y2="838" stroke="#707070" stroke-width="1"/>
<text x="219.45" y="846.6" font-size="8" text-anchor="middle" fill="#222">36.00</text>
<line x1="252.2" y1="834" x2="252.2" y2="838" stroke="#707070" stroke-width="1"/>
<text x="252.2" y="846.6" font-size="8" text-anchor="middle" fill="#222">42.00</text>
<rect x="60.3" y="832.9" width="5.41" height="1.1" fill="#f87868" stroke="#8c3a30" stroke-width="0.8"/>
<rect x="65.71" y="830.4" width="5.41" height="3.6" fill="#f87868" stroke="#8c3a30" stroke-width="0.8"/>
<rect x="71.12" y="824" width="5.41" height="10" fill="#f87868" stroke="#8c3a30" stroke-width="0.8"/>
<rect x="76.53" y="811.5" width="5.41" height="22.5" fill="#f87868" stroke="#8c3a30" stroke-width="0.8"/>
<rect x="81.94" y="797.4" width="5.41" height="36.6" fill="#f87868" stroke="#8c3a30" stroke-width="0.8"/>
<rect x="87.35" y="777.9" width="5.41" height="56.1" fill="#1428e6" stroke="#000c9c" stroke-width="0.8"/>
<rect x="92.76" y="760.8" width="5.41" height="73.2" fill="#1428e6" stroke="#000c9c" stroke-width="0.8"/>
<rect x="98.17" y="742.3" width="5.41" height="91.7" fill="#1428e6" stroke="#000c9c" stroke-width="0.8"/>
<rect x="103.58" y="729.4" width="5.41" height="104.6" fill="#1428e6" stroke="#000c9c" stroke-width="0.8"/>
<rect x="108.99" y="719.3" width="5.41" height="114.7" fill="#1428e6" stroke="#000c9c" stroke-width="0.8"/>
<rect x="114.4" y="712.4" width="5.41" height="121.6" fill="#1428e6" stroke="#000c9c" stroke-width="0.8"/>
<rect x="119.81" y="712.4" width="5.41" height="121.6" fill="#1428e6" stroke="#000c9c" stroke-width="0.8"/>
<rect x="125.22" y="713.2" width="5.41" height="120.8" fill="#1428e6" stroke="#000c9c" stroke-width="0.8"/>
<rect x="130.63" y="717.4" width="5.41" height="116.6" fill="#1428e6" stroke="#000c9c" stroke-width="0.8"/>
<rect x="136.04" y="724.3" width="5.41" height="109.7" fill="#1428e6" stroke="#000c9c" stroke-width="0.8"/>
<rect x="141.45" y="731.4" width="5.41" height="102.6" fill="#1428e6" stroke="#000c9c" stroke-width="0.8"/>
<rect x="146.86" y="739.3" width="5.41" height="94.7" fill="#1428e6" stroke="#000c9c" stroke-width="0.8"/>
<rect x="152.27" y="749.5" width="5.41" height="84.5" fill="#1428e6" stroke="#000c9c" stroke-width="0.8"/>
<rect x="157.68" y="760.8" width="5.41" height="73.2" fill="#1428e6" stroke="#000c9c" stroke-width="0.8"/>
<rect x="163.09" y="765.8" width="5.41" height="68.2" fill="#1428e6" stroke="#000c9c" stroke-width="0.8"/>
<rect x="168.5" y="774.2" width="5.41" height="59.8" fill="#1428e6" stroke="#000c9c" stroke-width="0.8"/>
<rect x="173.91" y="780.4" width="5.41" height="53.6" fill="#1428e6" stroke="#000c9c" stroke-width="0.8"/>
<rect x="179.32" y="786.4" width="5.41" height="47.6" fill="#1428e6" stroke="#000c9c" stroke-width="0.8"/>
<rect x="184.73" y="792.6" width="5.41" height="41.4" fill="#1428e6" stroke="#000c9c" stroke-width="0.8"/>
<rect x="190.14" y="801.5" width="5.41" height="32.5" fill="#1428e6" stroke="#000c9c" stroke-width="0.8"/>
<rect x="195.55" y="803.9" width="5.41" height="30.1" fill="#1428e6" stroke="#000c9c" stroke-width="0.8"/>
<rect x="200.96" y="809.4" width="5.41" height="24.6" fill="#1428e6" stroke="#000c9c" stroke-width="0.8"/>
<rect x="206.37" y="812.3" width="5.41" height="21.7" fill="#1428e6" stroke="#000c9c" stroke-width="0.8"/>
<rect x="211.78" y="814.8" width="5.41" height="19.2" fill="#1428e6" stroke="#000c9c" stroke-width="0.8"/>
<rect x="217.19" y="817.3" width="5.41" height="16.7" fill="#1428e6" stroke="#000c9c" stroke-width="0.8"/>
<rect x="222.6" y="820.3" width="5.41" height="13.7" fill="#f87868" stroke="#8c3a30" stroke-width="0.8"/>
<rect x="228.01" y="821.5" width="5.41" height="12.5" fill="#f87868" stroke="#8c3a30" stroke-width="0.8"/>
<rect x="233.42" y="824.9" width="5.41" height="9.1" fill="#f87868" stroke="#8c3a30" stroke-width="0.8"/>
<rect x="238.83" y="824.9" width="5.41" height="9.1" fill="#f87868" stroke="#8c3a30" stroke-width="0.8"/>
<rect x="244.24" y="827.1" width="5.41" height="6.9" fill="#f87868" stroke="#8c3a30" stroke-width="0.8"/>
<rect x="249.65" y="827.9" width="5.41" height="6.1" fill="#f87868" stroke="#8c3a30" stroke-width="0.8"/>
<rect x="255.06" y="829.6" width="5.41" height="4.4" fill="#f87868" stroke="#8c3a30" stroke-width="0.8"/>
<rect x="260.47" y="829.6" width="5.41" height="4.4" fill="#f87868" stroke="#8c3a30" stroke-width="0.8"/>
<line x1="90.1" y1="705.8" x2="90.1" y2="834" stroke="#00009c" stroke-width="2.4"/>
<line x1="135.6" y1="705.8" x2="135.6" y2="834" stroke="#00009c" stroke-width="2.4"/>
<line x1="224.7" y1="705.8" x2="224.7" y2="834" stroke="#00009c" stroke-width="2.4"/>
<line x1="90.1" y1="794.85" x2="93.5" y2="794.85" stroke="#000" stroke-width="1"/>
<rect x="93.5" y="789.8" width="44.8" height="10.1" fill="#fff" stroke="#555" stroke-width="0.9"/>
<text x="94.3" y="797.8" font-size="8.4" text-anchor="start" fill="#20208c" textLength="42.6" lengthAdjust="spacingAndGlyphs">5% = 12.38</text>
<line x1="135.6" y1="783.35" x2="138.8" y2="783.35" stroke="#000" stroke-width="1"/>
<rect x="138.8" y="778.4" width="49.9" height="9.9" fill="#fff" stroke="#555" stroke-width="0.9"/>
<text x="139.6" y="786.2" font-size="8.4" text-anchor="start" fill="#20208c" textLength="47.7" lengthAdjust="spacingAndGlyphs">50% = 20.67</text>
<line x1="220.4" y1="771" x2="224.7" y2="771" stroke="#000" stroke-width="1"/>
<rect x="171.1" y="766.1" width="49.3" height="9.8" fill="#fff" stroke="#555" stroke-width="0.9"/>
<text x="171.9" y="773.8" font-size="8.4" text-anchor="start" fill="#20208c" textLength="47.1" lengthAdjust="spacingAndGlyphs">95% = 36.74</text>
<polygon points="82,828.4 82,839.6 88.8,834" fill="url(#gd)" stroke="#333" stroke-width="0.6"/>
<polygon points="232.8,828.4 232.8,839.6 226,834" fill="url(#gd)" stroke="#333" stroke-width="0.6"/>
<rect x="17.1" y="861.6" width="61.5" height="13.5" fill="#fff" stroke="#a9a9a9" stroke-width="1"/>
<rect x="243.9" y="861.6" width="61.4" height="13.5" fill="#fff" stroke="#a9a9a9" stroke-width="1"/>
<rect x="147.5" y="861.6" width="39.4" height="13.5" fill="#fff" stroke="#a9a9a9" stroke-width="1"/>
<text x="19.7" y="871.5" font-size="9.3" text-anchor="start" fill="#1a1a1a" textLength="19" lengthAdjust="spacingAndGlyphs">12.38</text>
<text x="246.3" y="871.5" font-size="9.3" text-anchor="start" fill="#1a1a1a" textLength="19.6" lengthAdjust="spacingAndGlyphs">36.74</text>
<text x="149.6" y="871.5" font-size="9.3" text-anchor="start" fill="#1a1a1a" textLength="24.3" lengthAdjust="spacingAndGlyphs">90.000</text>
<text x="106.7" y="871.5" font-size="9.3" text-anchor="start" fill="#1a1a1a" textLength="35.5" lengthAdjust="spacingAndGlyphs">Certainty:</text>
<text x="191.6" y="871.5" font-size="9.3" text-anchor="start" fill="#1a1a1a" textLength="6.5" lengthAdjust="spacingAndGlyphs">%</text>
<polygon points="5.3,863.55 5.3,873.15 11.3,868.35" fill="url(#gd)" stroke="#333" stroke-width="0.6"/>
<polygon points="236.8,863.55 236.8,873.15 230.8,868.35" fill="url(#gd)" stroke="#333" stroke-width="0.6"/>
<rect x="321.9" y="877.9" width="1.2" height="1.2" fill="#b8b8b8"/>
<rect x="319.4" y="877.9" width="1.2" height="1.2" fill="#b8b8b8"/>
<rect x="321.9" y="875.4" width="1.2" height="1.2" fill="#b8b8b8"/>
<rect x="316.9" y="877.9" width="1.2" height="1.2" fill="#b8b8b8"/>
<rect x="321.9" y="872.9" width="1.2" height="1.2" fill="#b8b8b8"/>
<rect x="319.4" y="875.4" width="1.2" height="1.2" fill="#b8b8b8"/></g>
<g><rect x="361.5" y="663.5" width="321.9" height="216.5" fill="#f0f0f0" stroke="#3c3c3c" stroke-width="1"/>
<rect x="367.2" y="684.7" width="309.8" height="170.7" fill="none" stroke="#a6a6a6" stroke-width="1"/>
<rect x="368.2" y="685.7" width="307.8" height="168.7" fill="none" stroke="#e4e4e4" stroke-width="1"/>
<rect x="368.2" y="685.7" width="307.8" height="168.7" fill="none" stroke="#4a4a4a" stroke-width="1" stroke-dasharray="1.6 1.7"/>
<text x="367.6" y="676.6" font-size="9.1" text-anchor="start" fill="#1a1a1a" textLength="48.6" lengthAdjust="spacingAndGlyphs">100,000 Trials</text>
<text x="487.4" y="676.6" font-size="9.1" text-anchor="start" fill="#1a1a1a" textLength="55.6" lengthAdjust="spacingAndGlyphs">Frequency View</text>
<text x="616" y="676.6" font-size="9.1" text-anchor="start" fill="#1a1a1a" textLength="60.2" lengthAdjust="spacingAndGlyphs">98,274 Displayed</text>
<text x="415.3" y="695.4" font-size="11.3" text-anchor="start" fill="#111" font-weight="bold" textLength="23.5" lengthAdjust="spacingAndGlyphs">TCR</text>
<text x="441.71" y="695.4" font-size="11.3" text-anchor="start" fill="#111" font-weight="bold" textLength="14.14" lengthAdjust="spacingAndGlyphs">for</text>
<text x="458.76" y="695.4" font-size="11.3" text-anchor="start" fill="#111" font-weight="bold" textLength="15.18" lengthAdjust="spacingAndGlyphs">girl</text>
<text x="476.44" y="695.4" font-size="11.3" text-anchor="start" fill="#111" font-weight="bold" textLength="37.33" lengthAdjust="spacingAndGlyphs">infants</text>
<text x="517.09" y="695.4" font-size="11.3" text-anchor="start" fill="#111" font-weight="bold" textLength="20.38" lengthAdjust="spacingAndGlyphs">with</text>
<text x="540.9" y="695.4" font-size="11.3" text-anchor="start" fill="#111" font-weight="bold" textLength="28.7" lengthAdjust="spacingAndGlyphs">10-12</text>
<text x="573.24" y="695.4" font-size="11.3" text-anchor="start" fill="#111" font-weight="bold" textLength="30.05" lengthAdjust="spacingAndGlyphs">month</text>
<text x="605.88" y="695.4" font-size="11.3" text-anchor="start" fill="#111" font-weight="bold" textLength="18.72" lengthAdjust="spacingAndGlyphs">age</text>
<rect x="409.4" y="707.4" width="221" height="125.5" fill="#fffff0" stroke="#9a9a9a" stroke-width="1"/>
<line x1="405.4" y1="832.9" x2="409.4" y2="832.9" stroke="#707070" stroke-width="1"/>
<text x="402.9" y="835.4" font-size="8" text-anchor="end" fill="#222">0.00</text>
<text x="658.3" y="835.4" font-size="8" text-anchor="end" fill="#222">0</text>
<line x1="409.4" y1="813.5" x2="630.4" y2="813.5" stroke="#858585" stroke-width="1"/>
<line x1="405.4" y1="813.5" x2="409.4" y2="813.5" stroke="#707070" stroke-width="1"/>
<line x1="630.4" y1="813.5" x2="634.4" y2="813.5" stroke="#b4b4b4" stroke-width="1"/>
<text x="402.9" y="816" font-size="8" text-anchor="end" fill="#222">0.01</text>
<text x="658.3" y="816" font-size="8" text-anchor="end" fill="#222">1,000</text>
<line x1="409.4" y1="794.1" x2="630.4" y2="794.1" stroke="#858585" stroke-width="1"/>
<line x1="405.4" y1="794.1" x2="409.4" y2="794.1" stroke="#707070" stroke-width="1"/>
<line x1="630.4" y1="794.1" x2="634.4" y2="794.1" stroke="#b4b4b4" stroke-width="1"/>
<text x="402.9" y="796.6" font-size="8" text-anchor="end" fill="#222">0.02</text>
<text x="658.3" y="796.6" font-size="8" text-anchor="end" fill="#222">2,000</text>
<line x1="409.4" y1="774.7" x2="630.4" y2="774.7" stroke="#858585" stroke-width="1"/>
<line x1="405.4" y1="774.7" x2="409.4" y2="774.7" stroke="#707070" stroke-width="1"/>
<line x1="630.4" y1="774.7" x2="634.4" y2="774.7" stroke="#b4b4b4" stroke-width="1"/>
<text x="402.9" y="777.2" font-size="8" text-anchor="end" fill="#222">0.03</text>
<text x="658.3" y="777.2" font-size="8" text-anchor="end" fill="#222">3,000</text>
<line x1="409.4" y1="755.3" x2="630.4" y2="755.3" stroke="#858585" stroke-width="1"/>
<line x1="405.4" y1="755.3" x2="409.4" y2="755.3" stroke="#707070" stroke-width="1"/>
<line x1="630.4" y1="755.3" x2="634.4" y2="755.3" stroke="#b4b4b4" stroke-width="1"/>
<text x="402.9" y="757.8" font-size="8" text-anchor="end" fill="#222">0.04</text>
<text x="658.3" y="757.8" font-size="8" text-anchor="end" fill="#222">4,000</text>
<line x1="409.4" y1="735.9" x2="630.4" y2="735.9" stroke="#858585" stroke-width="1"/>
<line x1="405.4" y1="735.9" x2="409.4" y2="735.9" stroke="#707070" stroke-width="1"/>
<line x1="630.4" y1="735.9" x2="634.4" y2="735.9" stroke="#b4b4b4" stroke-width="1"/>
<text x="402.9" y="738.4" font-size="8" text-anchor="end" fill="#222">0.05</text>
<text x="658.3" y="738.4" font-size="8" text-anchor="end" fill="#222">5,000</text>
<line x1="409.4" y1="716.5" x2="630.4" y2="716.5" stroke="#858585" stroke-width="1"/>
<line x1="405.4" y1="716.5" x2="409.4" y2="716.5" stroke="#707070" stroke-width="1"/>
<line x1="630.4" y1="716.5" x2="634.4" y2="716.5" stroke="#b4b4b4" stroke-width="1"/>
<text x="402.9" y="719" font-size="8" text-anchor="end" fill="#222">0.06</text>
<text x="658.3" y="719" font-size="8" text-anchor="end" fill="#222">6,000</text>
<text transform="translate(380.25,770.15) rotate(-90)" font-size="10.5" text-anchor="middle" fill="#3a3a3a" textLength="50" lengthAdjust="spacingAndGlyphs">Probability</text>
<text transform="translate(663.87,770.15) rotate(90)" font-size="10.5" text-anchor="middle" fill="#3a3a3a" textLength="51" lengthAdjust="spacingAndGlyphs">Frequency</text>
<line x1="503.7" y1="832.9" x2="503.7" y2="836.9" stroke="#707070" stroke-width="1"/>
<text x="503.7" y="846" font-size="8" text-anchor="middle" fill="#222">1.00E-2</text>
<line x1="625.7" y1="832.9" x2="625.7" y2="836.9" stroke="#707070" stroke-width="1"/>
<text x="625.7" y="846" font-size="8" text-anchor="middle" fill="#222">2.00E-2</text>
<rect x="420.1" y="831.83" width="5.38" height="1.07" fill="#f87868" stroke="#8c3a30" stroke-width="0.8"/>
<rect x="425.48" y="829.39" width="5.38" height="3.51" fill="#f87868" stroke="#8c3a30" stroke-width="0.8"/>
<rect x="430.86" y="823.15" width="5.38" height="9.75" fill="#f87868" stroke="#8c3a30" stroke-width="0.8"/>
<rect x="436.24" y="810.97" width="5.38" height="21.93" fill="#f87868" stroke="#8c3a30" stroke-width="0.8"/>
<rect x="441.62" y="797.22" width="5.38" height="35.68" fill="#f87868" stroke="#8c3a30" stroke-width="0.8"/>
<rect x="447" y="778.21" width="5.38" height="54.69" fill="#f87868" stroke="#8c3a30" stroke-width="0.8"/>
<rect x="452.38" y="761.54" width="5.38" height="71.36" fill="#1428e6" stroke="#000c9c" stroke-width="0.8"/>
<rect x="457.76" y="743.5" width="5.38" height="89.4" fill="#1428e6" stroke="#000c9c" stroke-width="0.8"/>
<rect x="463.14" y="730.93" width="5.38" height="101.97" fill="#1428e6" stroke="#000c9c" stroke-width="0.8"/>
<rect x="468.52" y="721.08" width="5.38" height="111.82" fill="#1428e6" stroke="#000c9c" stroke-width="0.8"/>
<rect x="473.9" y="714.36" width="5.38" height="118.54" fill="#1428e6" stroke="#000c9c" stroke-width="0.8"/>
<rect x="479.28" y="714.36" width="5.38" height="118.54" fill="#1428e6" stroke="#000c9c" stroke-width="0.8"/>
<rect x="484.66" y="715.14" width="5.38" height="117.76" fill="#1428e6" stroke="#000c9c" stroke-width="0.8"/>
<rect x="490.04" y="719.23" width="5.38" height="113.67" fill="#1428e6" stroke="#000c9c" stroke-width="0.8"/>
<rect x="495.42" y="725.96" width="5.38" height="106.94" fill="#1428e6" stroke="#000c9c" stroke-width="0.8"/>
<rect x="500.8" y="732.88" width="5.38" height="100.02" fill="#1428e6" stroke="#000c9c" stroke-width="0.8"/>
<rect x="506.18" y="740.58" width="5.38" height="92.32" fill="#1428e6" stroke="#000c9c" stroke-width="0.8"/>
<rect x="511.56" y="750.52" width="5.38" height="82.38" fill="#1428e6" stroke="#000c9c" stroke-width="0.8"/>
<rect x="516.94" y="761.54" width="5.38" height="71.36" fill="#1428e6" stroke="#000c9c" stroke-width="0.8"/>
<rect x="522.32" y="766.41" width="5.38" height="66.49" fill="#1428e6" stroke="#000c9c" stroke-width="0.8"/>
<rect x="527.7" y="774.6" width="5.38" height="58.3" fill="#1428e6" stroke="#000c9c" stroke-width="0.8"/>
<rect x="533.08" y="780.65" width="5.38" height="52.25" fill="#1428e6" stroke="#000c9c" stroke-width="0.8"/>
<rect x="538.46" y="786.5" width="5.38" height="46.4" fill="#1428e6" stroke="#000c9c" stroke-width="0.8"/>
<rect x="543.84" y="792.54" width="5.38" height="40.36" fill="#1428e6" stroke="#000c9c" stroke-width="0.8"/>
<rect x="549.22" y="801.22" width="5.38" height="31.68" fill="#1428e6" stroke="#000c9c" stroke-width="0.8"/>
<rect x="554.6" y="803.56" width="5.38" height="29.34" fill="#1428e6" stroke="#000c9c" stroke-width="0.8"/>
<rect x="559.98" y="808.92" width="5.38" height="23.98" fill="#1428e6" stroke="#000c9c" stroke-width="0.8"/>
<rect x="565.36" y="811.75" width="5.38" height="21.15" fill="#1428e6" stroke="#000c9c" stroke-width="0.8"/>
<rect x="570.74" y="814.18" width="5.38" height="18.72" fill="#1428e6" stroke="#000c9c" stroke-width="0.8"/>
<rect x="576.12" y="816.62" width="5.38" height="16.28" fill="#1428e6" stroke="#000c9c" stroke-width="0.8"/>
<rect x="581.5" y="819.54" width="5.38" height="13.36" fill="#1428e6" stroke="#000c9c" stroke-width="0.8"/>
<rect x="586.88" y="820.71" width="5.38" height="12.19" fill="#f87868" stroke="#8c3a30" stroke-width="0.8"/>
<rect x="592.26" y="824.03" width="5.38" height="8.87" fill="#f87868" stroke="#8c3a30" stroke-width="0.8"/>
<rect x="597.64" y="824.03" width="5.38" height="8.87" fill="#f87868" stroke="#8c3a30" stroke-width="0.8"/>
<rect x="603.02" y="826.17" width="5.38" height="6.73" fill="#f87868" stroke="#8c3a30" stroke-width="0.8"/>
<rect x="608.4" y="826.95" width="5.38" height="5.95" fill="#f87868" stroke="#8c3a30" stroke-width="0.8"/>
<rect x="613.78" y="828.61" width="5.38" height="4.29" fill="#f87868" stroke="#8c3a30" stroke-width="0.8"/>
<rect x="619.16" y="828.61" width="5.38" height="4.29" fill="#f87868" stroke="#8c3a30" stroke-width="0.8"/>
<line x1="449.3" y1="707.4" x2="449.3" y2="832.9" stroke="#00009c" stroke-width="2.4"/>
<line x1="495.1" y1="707.4" x2="495.1" y2="832.9" stroke="#00009c" stroke-width="2.4"/>
<line x1="583.1" y1="707.4" x2="583.1" y2="832.9" stroke="#00009c" stroke-width="2.4"/>
<line x1="449.3" y1="793.95" x2="453.2" y2="793.95" stroke="#000" stroke-width="1"/>
<rect x="453.2" y="789" width="53" height="9.9" fill="#fff" stroke="#555" stroke-width="0.9"/>
<text x="454" y="796.8" font-size="8.4" text-anchor="start" fill="#20208c" textLength="50.8" lengthAdjust="spacingAndGlyphs">5% = 5.57E-3</text>
<line x1="495.1" y1="781.9" x2="498.5" y2="781.9" stroke="#000" stroke-width="1"/>
<rect x="498.5" y="777" width="57.8" height="9.8" fill="#fff" stroke="#555" stroke-width="0.9"/>
<text x="499.3" y="784.7" font-size="8.4" text-anchor="start" fill="#20208c" textLength="55.6" lengthAdjust="spacingAndGlyphs">50% = 9.30E-3</text>
<line x1="578.4" y1="770.15" x2="583.1" y2="770.15" stroke="#000" stroke-width="1"/>
<rect x="521" y="765.3" width="57.4" height="9.7" fill="#fff" stroke="#555" stroke-width="0.9"/>
<text x="521.8" y="772.9" font-size="8.4" text-anchor="start" fill="#20208c" textLength="55.2" lengthAdjust="spacingAndGlyphs">95% = 1.65E-2</text>
<polygon points="442.4,827.3 442.4,838.5 449.2,832.9" fill="url(#gl)" stroke="#55557a" stroke-width="0.6"/>
<polygon points="594,827.3 594,838.5 587.2,832.9" fill="url(#gl)" stroke="#55557a" stroke-width="0.6"/>
<rect x="376.5" y="860.9" width="61.8" height="13.2" fill="#fff" stroke="#a9a9a9" stroke-width="1"/>
<rect x="603.3" y="860.9" width="60.8" height="13.2" fill="#fff" stroke="#a9a9a9" stroke-width="1"/>
<rect x="507.1" y="860.9" width="39.1" height="13.2" fill="#fff" stroke="#a9a9a9" stroke-width="1"/>
<text x="379.1" y="870.5" font-size="9.3" text-anchor="start" fill="#1a1a1a" textLength="27.8" lengthAdjust="spacingAndGlyphs">5.61E-3</text>
<text x="605.7" y="870.5" font-size="9.3" text-anchor="start" fill="#1a1a1a" textLength="27.2" lengthAdjust="spacingAndGlyphs">1.68E-2</text>
<text x="509.2" y="870.5" font-size="9.3" text-anchor="start" fill="#1a1a1a" textLength="20.6" lengthAdjust="spacingAndGlyphs">90.00</text>
<text x="466.4" y="870.5" font-size="9.3" text-anchor="start" fill="#1a1a1a" textLength="35.5" lengthAdjust="spacingAndGlyphs">Certainty:</text>
<text x="550.8" y="870.5" font-size="9.3" text-anchor="start" fill="#1a1a1a" textLength="6.5" lengthAdjust="spacingAndGlyphs">%</text>
<polygon points="364.4,862.7 364.4,872.3 370.4,867.5" fill="url(#gd)" stroke="#333" stroke-width="0.6"/>
<polygon points="595.6,862.7 595.6,872.3 589.6,867.5" fill="url(#gd)" stroke="#333" stroke-width="0.6"/>
<rect x="680.4" y="877" width="1.2" height="1.2" fill="#b8b8b8"/>
<rect x="677.9" y="877" width="1.2" height="1.2" fill="#b8b8b8"/>
<rect x="680.4" y="874.5" width="1.2" height="1.2" fill="#b8b8b8"/>
<rect x="675.4" y="877" width="1.2" height="1.2" fill="#b8b8b8"/>
<rect x="680.4" y="872" width="1.2" height="1.2" fill="#b8b8b8"/>
<rect x="677.9" y="874.5" width="1.2" height="1.2" fill="#b8b8b8"/></g>
<rect x="42.5" y="886.2" width="1.1" height="1.1" fill="#9a9a9a"/><rect x="121.5" y="886.2" width="1.1" height="1.1" fill="#9a9a9a"/><rect x="182.0" y="886.2" width="1.1" height="1.1" fill="#9a9a9a"/><rect x="204.5" y="886.2" width="1.1" height="1.1" fill="#9a9a9a"/><rect x="320.5" y="886.2" width="1.1" height="1.1" fill="#9a9a9a"/><rect x="386.2" y="886.2" width="1.1" height="1.1" fill="#9a9a9a"/><rect x="418.2" y="886.2" width="1.1" height="1.1" fill="#9a9a9a"/><rect x="471.2" y="886.2" width="1.1" height="1.1" fill="#9a9a9a"/><rect x="526.5" y="886.2" width="1.1" height="1.1" fill="#9a9a9a"/><rect x="556.5" y="886.2" width="1.1" height="1.1" fill="#9a9a9a"/><rect x="563.5" y="886.2" width="1.1" height="1.1" fill="#9a9a9a"/><rect x="636.0" y="886.2" width="1.1" height="1.1" fill="#9a9a9a"/><rect x="642.5" y="886.2" width="1.1" height="1.1" fill="#9a9a9a"/><rect x="647.2" y="886.2" width="1.1" height="1.1" fill="#9a9a9a"/><rect x="233.5" y="886.2" width="2.4" height="1.1" fill="#9a9a9a"/><rect x="663" y="886.2" width="2.4" height="1.1" fill="#9a9a9a"/>
</svg>
</body></html>
